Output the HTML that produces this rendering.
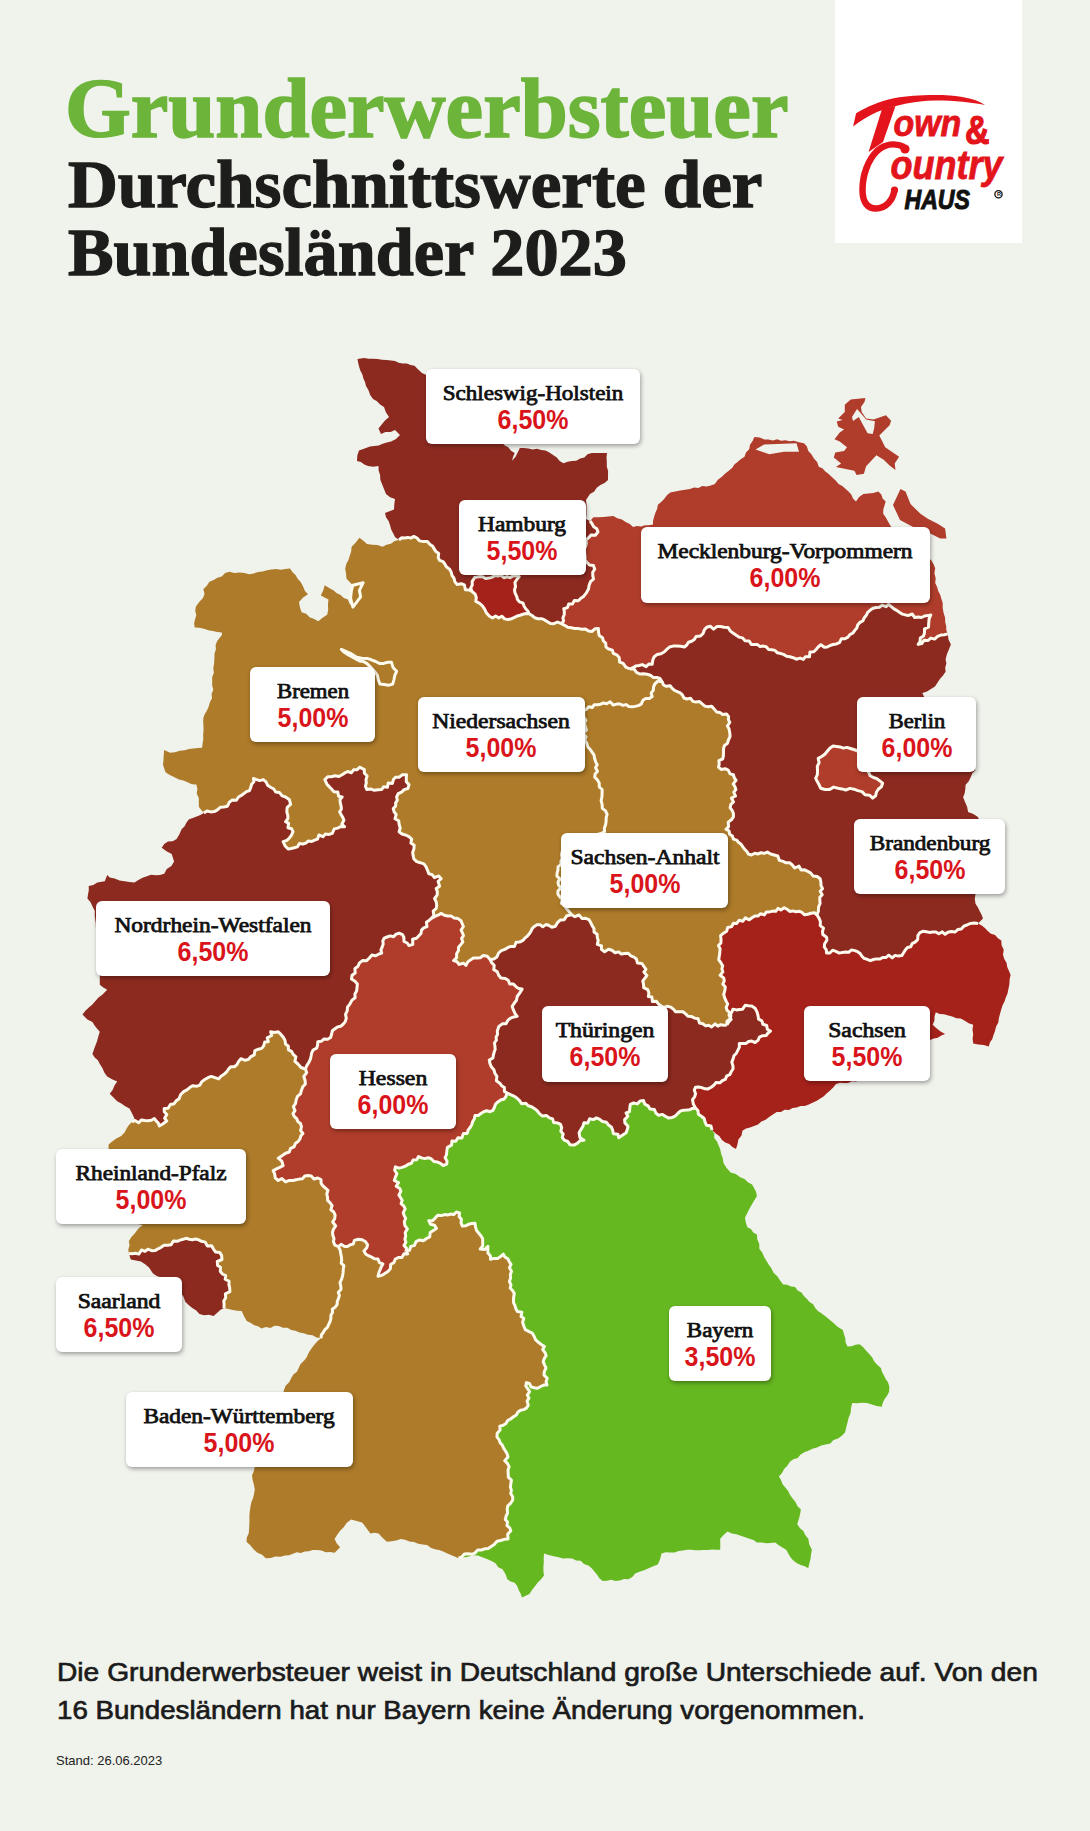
<!DOCTYPE html>
<html><head><meta charset="utf-8"><style>
html,body{margin:0;padding:0}
body{width:1090px;height:1831px;background:#f0f2ec;position:relative;overflow:hidden;font-family:"Liberation Sans",sans-serif}
.t{position:absolute;white-space:nowrap;font-family:"Liberation Serif",serif;font-weight:bold;transform-origin:0 0}
#t1{left:65px;top:65.5px;font-size:85px;line-height:85px;color:#6db43b;-webkit-text-stroke:1.6px #6db43b;transform:scaleX(0.995)}
#t2{left:68px;top:150.8px;font-size:67px;line-height:67px;color:#1d1d1b;-webkit-text-stroke:1.3px #1d1d1b;transform:scaleX(1.03)}
#t3{left:68px;top:218.9px;font-size:67px;line-height:67px;color:#1d1d1b;-webkit-text-stroke:1.3px #1d1d1b;transform:scaleX(1.02)}
#logo{position:absolute;left:835px;top:0;width:187px;height:243px;background:#fff}
#map{position:absolute;left:0;top:0}
.lb{position:absolute;background:#fff;border-radius:6px;box-shadow:1px 2px 4px rgba(0,0,0,0.35)}
.nm{position:absolute;top:13px;white-space:nowrap;font-family:"Liberation Serif",serif;font-weight:normal;-webkit-text-stroke:0.75px #111;font-size:20px;line-height:22px;color:#111}
.pc{position:absolute;top:36px;white-space:nowrap;font-family:"Liberation Sans",sans-serif;font-weight:bold;font-size:27px;line-height:30px;color:#d9141b;transform:translateX(-50%) scaleX(0.925)}
.bt{position:absolute;left:56.5px;white-space:nowrap;font-size:26.6px;line-height:30px;color:#1b1b1b;transform-origin:0 0;-webkit-text-stroke:0.7px #1b1b1b}
#b1{top:1656.5px;transform:scaleX(1.06)}
#b2{top:1694.5px;transform:scaleX(1.041)}
#st{position:absolute;left:56px;top:1752.5px;font-size:13px;line-height:15px;color:#222;white-space:nowrap}
</style></head><body>
<div class="t" id="t1">Grunderwerbsteuer</div>
<div class="t" id="t2">Durchschnittswerte der</div>
<div class="t" id="t3">Bundesländer 2023</div>
<div id="logo">
<svg width="187" height="243" viewBox="835 0 187 243">
<path d="M853.1 126.5 L856.1 113.3 C866 107 880 101 895 98 C910 95.5 930 94.5 950 95.5 C965 96.5 978 100 985 105 C972 102.5 955 100.5 935 100.5 C915 101 895 105 877 112 C868 116 860 121 853.1 126.5 Z" fill="#e3141b"/>
<path d="M882 109 L895.5 106 L883 142 L868.6 152.1 Z" fill="#e3141b"/>
<text x="0" y="0" transform="translate(893.5 136) scale(0.943 1)" font-family="Liberation Sans" font-weight="bold" font-style="italic" font-size="36" fill="#e3141b" stroke="#e3141b" stroke-width="0.8">own</text>
<text x="0" y="0" transform="translate(965 144) scale(0.85 1)" font-family="Liberation Sans" font-weight="bold" font-size="40" fill="#e3141b" stroke="#e3141b" stroke-width="1.2">&amp;</text>
<path d="M904 147 C895 142.5 885 144 877 151 C868 160 862.5 175 862.5 190 C862.5 203 868 208.5 876 208.5 C886 208.5 893 200 894.5 190" fill="none" stroke="#e3141b" stroke-width="6.5"/>
<circle cx="905" cy="149" r="4.6" fill="#e3141b"/>
<circle cx="894.5" cy="190" r="3.6" fill="#e3141b"/>
<text x="0" y="0" transform="translate(890.5 178.5) scale(0.9 1)" font-family="Liberation Sans" font-weight="bold" font-style="italic" font-size="40" fill="#e3141b" stroke="#e3141b" stroke-width="0.8">ountry</text>
<text x="0" y="0" transform="translate(904.5 209.3) scale(0.855 1)" font-family="Liberation Sans" font-weight="bold" font-style="italic" font-size="27" fill="#111" stroke="#111" stroke-width="1">HAUS</text>
<circle cx="998.5" cy="194.3" r="3.6" fill="none" stroke="#111" stroke-width="1.3"/>
<text x="996.9" y="196.3" font-family="Liberation Sans" font-weight="bold" font-size="5.5" fill="#111">R</text>
</svg></div>
<svg id="map" width="1090" height="1831">
<path fill="#ad7b29" d="M399.0 540.0 394.7 541.1 390.9 543.8 386.5 544.8 382.5 546.7 377.5 545.0 372.2 544.8 367.0 544.1 363.4 540.7 359.4 537.7 355.8 542.4 351.6 546.7 351.2 551.3 349.8 555.7 348.4 560.0 346.3 564.1 345.2 568.5 346.0 573.6 346.5 578.8 349.7 582.0 352.9 585.2 358.2 584.6 363.2 582.7 361.9 586.8 359.4 590.4 360.6 596.8 358.4 600.5 355.2 603.5 352.9 607.1 349.6 603.7 347.8 599.4 343.8 597.9 340.6 595.1 336.8 593.2 333.7 590.4 329.1 588.0 324.7 585.2 323.2 590.5 320.8 595.5 324.6 597.6 328.5 599.4 327.9 604.5 328.2 609.7 327.2 614.8 322.6 617.8 318.3 621.2 314.1 619.0 309.6 617.3 306.1 613.8 301.6 612.2 299.9 607.2 299.0 601.9 303.1 597.6 308.0 594.2 304.8 590.8 303.1 586.4 300.8 582.3 297.7 578.8 295.5 575.1 292.4 572.0 290.0 568.5 285.4 569.1 280.8 569.8 276.1 568.9 271.5 569.4 267.0 570.3 262.6 571.6 258.1 572.1 253.7 573.4 249.2 574.3 244.3 572.9 239.4 572.6 234.3 572.9 229.4 571.8 225.1 573.1 221.8 576.5 217.4 577.7 213.6 579.9 209.5 581.7 206.8 585.8 203.3 589.2 204.6 594.1 202.8 598.3 199.6 601.6 195.9 606.5 195.2 610.7 196.3 615.0 195.1 619.2 194.1 623.3 194.7 627.6 199.3 627.8 203.9 628.7 208.3 630.2 212.8 630.9 217.3 631.9 221.9 632.5 221.9 635.0 217.0 641.2 215.6 645.2 215.9 649.6 214.5 653.6 214.4 658.6 214.1 663.5 213.3 668.4 213.9 672.7 212.2 676.9 212.2 681.1 212.2 685.4 213.3 689.7 211.6 693.9 212.0 698.2 209.9 702.2 208.7 706.5 207.0 710.6 204.8 714.1 203.3 718.0 203.2 722.2 203.5 726.5 203.5 730.8 203.1 735.0 203.3 739.2 202.6 743.5 202.1 747.7 197.7 747.9 193.4 748.6 189.0 749.0 184.8 750.2 179.8 750.7 175.0 752.3 170.0 752.7 164.2 749.9 163.7 754.9 163.5 759.8 163.0 764.8 165.5 772.2 169.8 775.1 174.5 777.2 179.0 779.6 183.5 780.4 187.6 782.3 191.8 784.2 196.4 784.6 197.4 789.0 196.7 793.6 198.8 797.9 198.8 802.4 198.9 806.9 203.9 813.0 206.9 811.0 210.8 811.9 214.3 811.6 217.4 809.9 220.2 807.3 223.7 806.9 227.5 806.2 229.2 802.4 232.0 800.1 236.4 800.3 238.5 797.0 241.3 795.4 243.9 793.6 246.4 791.6 249.6 790.6 250.9 787.1 251.6 784.2 253.9 781.7 253.4 778.4 256.6 779.6 259.8 780.6 263.3 779.6 266.0 781.9 267.6 785.2 270.5 787.2 273.8 789.0 275.7 792.0 279.5 792.6 282.1 795.8 285.6 797.0 289.5 799.8 290.6 804.4 287.2 807.3 286.8 811.8 287.8 815.3 287.9 818.6 285.6 821.7 288.7 823.3 287.9 827.7 291.6 828.8 293.0 831.7 291.5 835.2 289.4 838.0 286.9 840.4 283.1 841.6 285.0 845.7 288.1 849.0 291.2 848.5 294.3 847.7 297.3 846.9 299.4 843.4 302.9 844.0 305.8 843.1 308.3 841.0 311.8 841.4 314.6 840.2 317.5 839.2 318.9 835.0 323.0 836.7 325.2 834.1 329.0 834.4 332.3 833.3 334.3 828.9 337.7 828.1 340.8 826.5 344.6 826.7 341.8 824.3 343.9 820.3 342.8 817.4 341.1 814.6 339.6 811.8 341.4 809.1 341.1 806.0 340.3 802.8 340.0 799.7 342.1 797.0 338.6 796.2 337.8 792.1 333.9 791.7 331.7 789.3 329.5 786.9 327.2 784.6 324.8 779.6 327.7 776.8 331.5 776.7 334.9 775.8 338.9 776.5 342.1 774.7 344.8 773.0 347.6 771.5 351.5 772.7 353.7 769.7 357.2 769.7 359.5 767.2 364.4 769.7 364.3 773.1 367.1 776.1 366.0 779.6 366.3 782.9 365.4 786.3 366.9 789.5 370.6 788.9 374.3 790.3 378.0 789.7 381.7 789.5 383.5 786.8 387.5 787.2 388.2 782.9 392.4 783.5 393.4 779.6 395.5 777.3 399.1 777.2 402.4 774.8 406.5 774.7 406.3 778.3 406.3 781.8 409.0 784.6 407.9 788.5 404.1 789.6 401.6 792.1 398.2 793.7 396.6 797.0 397.3 800.2 395.6 802.9 395.7 806.0 393.3 808.6 394.1 811.8 396.2 814.5 395.0 818.7 398.7 820.8 399.1 824.2 400.2 828.0 399.1 831.7 402.0 834.0 405.7 835.0 409.0 836.6 411.7 839.1 410.9 843.0 414.2 845.3 413.9 849.0 412.7 852.3 413.1 855.6 413.9 858.9 416.7 861.6 420.3 862.7 423.9 863.9 426.1 866.9 427.5 870.3 428.8 873.8 432.1 874.6 434.4 877.7 438.7 875.9 441.2 878.7 438.1 881.3 439.6 886.2 436.2 888.6 437.4 891.9 437.1 895.2 434.6 898.5 436.2 901.8 436.7 905.1 436.2 908.4 433.2 911.1 433.9 915.5 431.3 918.4 434.5 916.6 438.0 915.2 441.2 913.4 444.3 915.2 447.6 916.0 451.1 915.9 454.1 918.1 458.0 918.6 461.0 920.8 462.2 923.7 463.4 926.5 461.1 930.0 462.4 932.8 463.5 935.7 461.6 938.4 462.8 942.0 460.7 944.7 458.5 947.2 458.5 950.5 456.6 953.7 456.6 957.8 453.6 960.5 456.8 961.6 459.2 964.4 463.3 963.2 466.0 965.4 467.6 962.1 470.4 959.9 473.4 958.0 476.9 958.0 480.3 957.7 483.3 955.5 487.3 956.3 489.9 959.4 493.9 958.9 496.9 956.9 498.6 953.0 501.3 950.6 504.8 949.4 507.6 947.7 510.7 946.4 514.4 946.5 516.1 942.3 519.6 942.0 522.6 940.7 524.6 938.4 527.0 936.4 529.1 934.1 530.8 931.5 532.2 928.5 534.3 926.4 537.0 924.7 540.1 924.7 542.7 926.8 546.2 924.5 549.0 925.5 551.8 927.2 555.4 926.2 557.5 922.6 560.2 920.1 564.2 919.7 566.9 915.7 571.7 914.8 568.9 911.4 566.0 908.0 564.9 905.1 561.4 903.4 562.5 899.2 560.0 897.0 557.9 894.1 558.0 891.1 560.8 887.9 558.5 885.0 558.0 882.1 560.0 878.9 556.9 876.1 557.1 873.1 558.0 870.0 558.0 866.9 561.0 864.4 561.0 861.2 562.3 858.4 561.6 855.1 562.0 852.0 565.6 851.8 568.4 850.3 570.0 846.3 572.7 844.4 576.3 844.3 579.7 843.9 581.3 839.9 585.0 840.0 587.2 837.4 590.3 836.9 592.7 834.8 596.2 835.3 598.9 833.9 601.9 833.1 604.6 831.7 604.3 828.1 605.6 824.7 606.1 821.3 606.2 817.7 607.1 814.3 605.6 810.9 602.3 808.4 602.1 804.4 601.1 800.7 601.9 797.0 602.1 793.2 602.1 789.5 599.3 787.0 599.2 782.9 597.4 779.8 594.7 777.2 595.1 774.1 597.5 771.3 595.5 767.7 597.2 764.8 595.7 761.8 594.6 758.6 594.1 755.2 592.2 752.4 590.2 749.4 587.7 746.7 586.7 743.0 584.8 740.0 586.0 736.7 583.3 733.5 586.4 730.1 585.5 726.8 584.4 723.5 585.9 720.2 583.8 717.0 583.6 713.7 583.6 710.4 586.4 709.3 588.7 706.7 592.2 707.5 594.3 704.7 597.6 704.8 600.6 704.2 603.4 703.0 606.7 703.8 610.1 701.8 613.3 705.1 616.7 704.1 620.0 704.0 622.8 705.4 626.0 704.6 628.8 706.5 631.8 706.7 634.9 706.4 638.3 705.6 641.2 704.1 642.9 700.3 645.7 698.5 649.4 698.4 652.2 696.5 651.1 693.1 653.3 690.3 653.5 687.1 654.7 684.1 657.8 681.1 662.1 681.7 660.0 678.5 656.8 677.4 653.1 677.4 650.4 675.2 647.2 674.2 643.6 673.8 639.8 674.0 636.5 672.3 633.8 668.7 630.0 669.0 625.8 667.1 623.2 663.3 619.6 662.0 619.2 657.4 616.8 654.8 613.3 653.4 612.4 650.1 608.6 649.0 606.0 647.1 605.7 643.2 603.4 641.0 602.5 637.7 599.2 635.5 598.5 632.1 598.4 628.6 594.9 628.8 592.1 631.4 588.5 631.1 585.5 629.0 581.9 629.3 578.6 628.6 574.9 628.6 571.4 627.7 567.8 627.2 564.6 625.3 561.3 623.7 557.6 622.0 553.9 623.7 550.4 623.6 547.5 621.8 544.6 619.9 541.5 618.7 537.9 618.7 534.7 617.7 532.0 615.5 529.1 613.8 525.9 613.5 523.0 614.3 520.1 615.2 517.2 616.0 514.5 617.4 511.7 618.7 508.0 619.6 504.6 618.9 501.8 616.2 498.7 617.9 495.6 616.0 492.6 618.0 489.5 616.2 486.4 612.9 484.5 608.8 482.2 605.6 479.3 603.2 475.8 601.4 476.3 597.4 475.1 594.1 472.1 591.5 469.2 589.9 465.4 589.8 464.4 584.9 461.2 583.7 457.0 584.4 454.8 581.6 454.0 578.2 452.0 575.5 451.2 572.1 449.6 569.2 446.6 567.1 444.9 564.2 443.1 561.6 439.6 560.4 438.2 557.6 438.7 553.4 436.0 551.5 434.2 549.0 432.7 546.3 430.0 544.4 427.4 541.5 423.3 541.6 419.6 540.9 417.0 538.0 413.8 536.4 410.9 538.1 407.8 537.4 404.8 537.9 401.8 537.7 399.0 540.0Z"/>
<path fill="#8d2a20" d="M399.0 540.0 395.0 537.0 393.0 533.1 391.1 529.2 390.0 525.0 388.6 520.9 386.0 517.3 385.0 513.0 389.5 511.3 394.0 509.5 394.3 504.2 395.0 499.0 390.1 497.2 386.0 494.0 384.0 489.0 382.0 484.0 380.3 479.7 380.1 475.0 378.6 470.6 378.5 466.0 373.2 466.7 368.0 466.0 364.3 464.5 360.9 462.1 357.0 461.0 357.3 455.6 359.0 450.5 366.0 448.0 370.0 446.4 374.4 446.1 378.7 445.5 382.7 443.8 386.8 442.4 391.0 441.5 396.0 438.9 400.0 435.0 395.0 430.0 390.6 432.1 385.5 432.0 381.0 434.0 378.5 428.6 381.7 424.5 385.0 420.4 389.0 417.0 385.9 412.3 384.0 407.0 380.1 404.6 377.0 401.2 373.0 399.0 370.2 394.9 368.5 390.3 366.0 386.0 365.0 382.1 363.4 378.4 362.4 374.4 360.4 370.8 359.2 367.0 358.2 363.0 357.5 359.0 364.0 358.0 368.5 358.7 373.0 358.7 377.5 358.9 382.0 359.8 386.5 360.0 391.0 360.5 395.0 361.0 398.7 362.8 402.7 363.4 406.8 363.5 410.6 365.0 414.5 365.7 418.2 369.4 422.0 373.0 426.3 374.9 430.9 375.9 435.6 376.4 440.0 378.0 444.1 379.8 448.7 379.3 452.9 380.9 457.0 382.5 461.6 382.4 465.7 384.0 470.0 385.0 473.6 386.9 476.1 390.2 479.1 392.9 482.4 395.1 485.2 398.0 489.0 399.7 491.7 402.8 495.0 405.0 495.5 409.4 496.1 413.8 497.0 418.1 496.9 422.6 497.3 427.0 498.8 431.2 499.1 435.7 500.0 440.0 504.4 445.3 508.3 447.2 511.0 450.7 514.7 453.0 513.1 456.8 512.0 460.7 515.4 456.9 517.7 452.5 519.8 447.9 524.1 447.9 528.4 448.6 532.6 449.5 537.0 448.8 541.2 450.0 545.5 450.5 549.4 452.6 553.1 455.1 556.8 457.5 559.6 461.1 563.5 463.3 567.6 461.8 571.9 461.1 576.3 460.7 580.1 458.6 584.3 457.4 587.5 454.2 591.7 453.0 596.8 452.9 601.9 453.1 607.0 453.0 606.5 457.5 606.8 462.0 606.8 466.5 608.1 471.0 608.0 475.5 608.0 480.0 604.6 483.0 600.4 485.1 596.7 487.7 594.0 491.7 590.0 494.0 586.0 500.0 586.6 504.8 586.5 509.5 586.5 514.2 586.0 519.0 590.0 521.0 592.0 523.7 593.7 526.7 596.8 528.7 598.0 532.0 595.3 535.3 591.0 535.0 588.7 537.7 586.0 540.0 586.4 543.4 585.4 546.7 583.7 549.9 584.6 553.3 585.1 556.7 585.0 560.0 587.1 562.6 589.4 565.1 593.5 565.6 594.7 569.2 592.7 572.3 592.8 575.7 593.5 579.1 590.5 581.7 589.1 585.2 588.5 589.0 586.4 592.9 583.6 596.4 580.8 598.3 578.4 600.8 574.4 600.4 572.5 604.0 568.7 603.9 567.5 607.6 563.8 608.8 564.4 612.0 564.1 615.0 562.9 617.8 563.6 621.0 561.3 623.7 557.6 622.0 553.9 623.7 550.4 623.6 547.5 621.8 544.6 619.9 541.5 618.7 537.9 618.7 534.7 617.7 532.0 615.5 529.1 613.8 527.9 611.0 525.7 608.8 524.1 606.3 523.1 603.2 519.6 601.9 517.5 599.6 516.7 596.4 515.1 593.2 514.5 590.0 515.5 586.5 514.9 582.5 516.8 579.5 519.2 576.6 516.1 575.5 513.1 575.9 510.0 577.7 507.0 576.7 503.9 577.7 500.9 575.3 497.8 576.1 494.8 575.6 491.7 577.4 488.7 578.1 485.6 578.5 482.6 576.7 479.5 576.6 474.7 577.5 472.1 581.6 472.3 584.9 470.7 588.2 472.1 591.5 469.2 589.9 465.4 589.8 464.4 584.9 461.2 583.7 457.0 584.4 454.8 581.6 454.0 578.2 452.0 575.5 451.2 572.1 449.6 569.2 446.6 567.1 444.9 564.2 443.1 561.6 439.6 560.4 438.2 557.6 438.7 553.4 436.0 551.5 434.2 549.0 432.7 546.3 430.0 544.4 427.4 541.5 423.3 541.6 419.6 540.9 417.0 538.0 413.8 536.4 410.9 538.1 407.8 537.4 404.8 537.9 401.8 537.7 399.0 540.0Z"/>
<path fill="#b03d2b" d="M590.0 521.0 593.5 517.2 598.5 517.2 603.4 517.0 608.4 516.4 613.3 515.9 617.3 518.2 621.9 519.4 625.7 522.1 629.8 524.0 633.1 527.0 637.0 526.1 641.1 526.5 645.0 525.2 649.0 525.2 653.0 524.6 653.1 520.4 654.2 516.5 655.5 512.6 657.2 508.8 657.9 504.8 661.2 501.9 664.3 498.8 666.9 495.2 670.3 492.4 675.2 491.6 680.1 490.6 685.1 489.8 690.0 489.0 694.0 487.5 698.4 488.0 702.3 486.0 706.7 486.5 710.8 485.6 714.8 484.0 717.9 479.7 722.2 476.6 725.2 473.4 728.8 470.8 732.1 467.9 734.6 464.2 737.8 461.7 741.0 458.9 744.5 456.8 746.0 452.6 749.2 449.2 750.0 444.7 752.6 441.0 754.4 437.0 759.5 437.6 764.3 439.4 768.5 439.6 772.8 440.6 777.1 439.3 781.2 440.7 785.5 440.3 789.7 441.2 794.0 440.7 798.9 442.3 804.0 443.2 806.9 446.6 808.3 451.0 811.4 454.3 813.9 458.4 817.1 462.1 818.8 466.7 822.6 468.5 825.4 471.6 828.7 474.1 832.1 477.3 835.6 480.4 838.6 484.0 842.3 486.0 845.4 488.8 848.5 491.5 851.3 494.6 853.0 498.5 856.0 501.4 859.1 497.1 863.4 494.0 868.4 493.6 873.4 492.9 878.3 491.5 881.3 494.4 882.6 498.6 885.7 501.4 884.5 505.5 883.3 509.5 883.2 513.8 886.0 517.7 888.3 521.9 890.6 526.1 893.6 529.8 895.6 534.2 899.1 537.5 902.3 541.1 905.0 545.0 909.0 546.3 913.1 547.4 917.3 548.4 921.2 549.9 925.0 552.0 927.8 556.8 931.5 560.8 933.7 564.4 935.2 568.3 934.4 573.2 935.7 578.2 935.2 583.1 937.1 586.9 938.2 591.0 940.2 594.8 941.4 598.9 942.7 602.9 942.7 608.0 943.6 612.9 945.1 617.8 945.2 621.9 946.2 625.9 946.3 630.0 947.7 633.9 944.3 634.7 940.8 635.1 937.6 636.4 934.6 639.1 930.8 638.1 928.1 640.5 924.0 640.2 921.8 643.6 918.2 644.4 920.1 641.5 920.3 638.1 923.5 636.0 924.5 632.7 924.5 628.8 928.5 627.1 928.7 623.3 929.1 618.9 930.8 614.9 927.7 615.6 924.5 616.0 921.5 617.5 918.2 617.0 914.8 617.6 912.2 614.0 908.7 615.4 905.5 614.9 902.4 614.1 899.7 612.5 897.1 610.6 894.0 608.9 891.3 606.6 888.6 604.3 886.1 606.7 882.1 605.1 879.4 607.2 876.1 607.5 873.0 608.3 870.3 610.1 867.7 612.3 866.3 615.3 864.3 617.7 863.0 620.7 860.0 622.4 857.8 624.7 856.8 628.0 854.8 630.4 852.9 633.0 849.9 634.6 847.9 637.1 845.0 638.7 841.3 638.8 839.5 642.7 836.4 643.9 833.0 644.5 830.1 645.5 827.3 647.0 824.3 647.3 820.9 644.7 818.2 647.0 816.1 649.5 813.8 651.8 809.9 652.1 809.5 656.8 805.3 656.8 803.3 659.4 800.1 658.1 796.3 659.2 793.2 657.7 789.9 656.7 786.6 656.2 783.5 654.4 780.5 653.5 777.4 652.8 774.9 650.4 771.8 649.7 768.6 649.5 766.2 646.8 763.3 646.1 760.1 646.6 757.5 644.6 754.4 644.4 751.3 644.5 749.2 640.9 745.1 640.8 742.6 637.9 738.9 637.1 735.9 635.1 733.0 633.1 730.2 630.8 728.1 627.5 724.0 627.2 720.5 626.6 717.1 626.4 713.6 629.1 710.2 626.2 706.7 627.2 704.4 629.8 703.1 633.5 700.6 635.9 696.1 636.4 694.3 639.5 691.7 641.2 688.5 642.2 686.8 645.0 684.4 647.0 680.7 646.2 677.0 646.0 673.2 646.1 669.5 647.0 666.8 649.4 664.1 652.0 661.0 653.7 657.2 654.4 654.0 657.0 652.7 660.4 652.2 664.3 648.8 664.0 646.1 666.6 642.3 664.6 639.2 665.5 636.0 665.9 633.0 667.7 630.0 669.0 625.8 667.1 623.2 663.3 619.6 662.0 619.2 657.4 616.8 654.8 613.3 653.4 612.4 650.1 608.6 649.0 606.0 647.1 605.7 643.2 603.4 641.0 602.5 637.7 599.2 635.5 598.5 632.1 598.4 628.6 594.9 628.8 592.1 631.4 588.5 631.1 585.5 629.0 581.9 629.3 578.6 628.6 574.9 628.6 571.4 627.7 567.8 627.2 564.6 625.3 561.3 623.7 563.6 621.0 562.9 617.8 564.1 615.0 564.4 612.0 563.8 608.8 567.5 607.6 568.7 603.9 572.5 604.0 574.4 600.4 578.4 600.8 580.8 598.3 583.6 596.4 586.4 592.9 588.5 589.0 589.1 585.2 590.5 581.7 593.5 579.1 592.8 575.7 592.7 572.3 594.7 569.2 593.5 565.6 589.4 565.1 587.1 562.6 585.0 560.0 585.1 556.7 584.6 553.3 583.7 549.9 585.4 546.7 586.4 543.4 586.0 540.0 588.7 537.7 591.0 535.0 595.3 535.3 598.0 532.0 596.8 528.7 593.7 526.7 592.0 523.7 590.0 521.0Z"/>
<path fill="#8d2a20" d="M630.0 669.0 633.0 667.7 636.0 665.9 639.2 665.5 642.3 664.6 646.1 666.6 648.8 664.0 652.2 664.3 652.7 660.4 654.0 657.0 657.2 654.4 661.0 653.7 664.1 652.0 666.8 649.4 669.5 647.0 673.2 646.1 677.0 646.0 680.7 646.2 684.4 647.0 686.8 645.0 688.5 642.2 691.7 641.2 694.3 639.5 696.1 636.4 700.6 635.9 703.1 633.5 704.4 629.8 706.7 627.2 710.2 626.2 713.6 629.1 717.1 626.4 720.5 626.6 724.0 627.2 728.1 627.5 730.2 630.8 733.0 633.1 735.9 635.1 738.9 637.1 742.6 637.9 745.1 640.8 749.2 640.9 751.3 644.5 754.4 644.4 757.5 644.6 760.1 646.6 763.3 646.1 766.2 646.8 768.6 649.5 771.8 649.7 774.9 650.4 777.4 652.8 780.5 653.5 783.5 654.4 786.6 656.2 789.9 656.7 793.2 657.7 796.3 659.2 800.1 658.1 803.3 659.4 805.3 656.8 809.5 656.8 809.9 652.1 813.8 651.8 816.1 649.5 818.2 647.0 820.9 644.7 824.3 647.3 827.3 647.0 830.1 645.5 833.0 644.5 836.4 643.9 839.5 642.7 841.3 638.8 845.0 638.7 847.9 637.1 849.9 634.6 852.9 633.0 854.8 630.4 856.8 628.0 857.8 624.7 860.0 622.4 863.0 620.7 864.3 617.7 866.3 615.3 867.7 612.3 870.3 610.1 873.0 608.3 876.1 607.5 879.4 607.2 882.1 605.1 886.1 606.7 888.6 604.3 891.3 606.6 894.0 608.9 897.1 610.6 899.7 612.5 902.4 614.1 905.5 614.9 908.7 615.4 912.2 614.0 914.8 617.6 918.2 617.0 921.5 617.5 924.5 616.0 927.7 615.6 930.8 614.9 929.1 618.9 928.7 623.3 928.5 627.1 924.5 628.8 924.5 632.7 923.5 636.0 920.3 638.1 920.1 641.5 918.2 644.4 921.8 643.6 924.0 640.2 928.1 640.5 930.8 638.1 934.6 639.1 937.6 636.4 940.8 635.1 944.3 634.7 947.7 633.9 948.5 639.4 950.9 644.4 949.0 649.3 947.0 654.1 945.6 659.2 946.4 663.4 945.2 667.6 945.6 671.8 943.0 675.6 939.9 678.9 937.4 682.7 935.0 686.6 931.0 689.0 927.0 691.5 922.4 692.9 924.0 696.7 927.4 699.3 929.0 703.0 931.4 706.3 933.7 709.6 935.2 713.5 937.1 717.1 940.0 720.0 942.6 723.4 944.3 727.4 947.1 730.7 949.0 734.6 951.5 738.1 954.1 741.5 956.4 745.1 958.6 748.8 959.8 753.1 962.7 756.4 965.0 760.0 968.8 763.0 971.5 767.2 975.5 770.0 972.3 773.2 970.6 777.5 968.6 781.5 965.6 784.8 965.3 789.0 964.7 793.2 963.1 797.2 965.0 802.0 967.1 806.8 968.1 812.0 973.3 814.1 978.0 817.0 979.3 821.0 979.6 825.3 979.9 829.5 981.1 833.6 982.5 837.6 983.4 841.7 984.1 845.9 985.0 850.0 984.5 854.3 983.9 858.6 983.6 863.0 982.5 867.2 980.6 871.3 981.4 875.8 980.0 880.0 978.5 884.6 976.8 889.1 975.5 893.8 974.8 898.8 975.5 903.7 977.8 907.2 979.6 910.9 981.5 914.6 983.0 918.5 978.0 923.5 974.2 923.0 970.5 923.4 967.0 925.0 963.8 926.2 961.3 929.1 957.8 929.5 955.2 932.0 951.3 931.5 947.9 932.2 945.1 934.3 942.3 931.9 938.8 933.8 935.9 931.9 932.7 932.1 929.5 932.4 926.4 931.7 923.3 931.2 919.9 932.7 917.9 935.4 917.7 939.5 915.4 941.9 912.1 943.6 910.8 946.8 907.4 947.5 905.3 949.9 903.6 952.8 901.8 955.6 898.3 956.1 895.1 955.4 892.2 957.9 888.8 955.2 885.8 957.6 882.7 957.5 879.7 959.1 876.5 958.9 873.4 959.5 870.4 960.7 867.1 959.3 864.1 958.4 861.9 956.2 860.1 953.4 857.6 951.7 854.7 950.6 851.6 949.9 848.7 952.2 845.5 952.1 842.4 952.4 839.3 953.1 835.9 951.4 832.6 950.2 829.8 953.0 826.6 953.0 826.3 949.9 824.3 947.0 824.6 943.8 826.9 940.3 826.6 937.2 822.8 934.5 822.5 931.4 823.5 928.1 820.2 925.6 820.4 921.5 819.0 918.1 817.0 915.0 818.4 911.3 818.5 907.2 820.1 903.5 819.8 900.4 819.8 897.3 822.2 894.7 820.2 891.3 822.6 888.6 821.0 885.5 820.9 882.0 820.1 878.7 817.2 876.5 813.2 876.1 810.8 873.1 807.7 871.3 804.7 869.8 801.1 870.0 799.0 866.1 794.7 868.0 792.3 865.0 789.6 862.7 786.0 862.8 783.0 861.4 779.4 860.4 777.8 856.0 774.2 855.0 770.6 854.0 767.4 852.1 764.2 853.4 761.0 852.7 757.9 854.0 754.7 853.2 751.5 855.0 748.3 854.0 746.7 851.3 744.6 849.2 742.8 846.8 741.1 844.2 738.6 842.4 736.6 840.1 733.4 839.1 732.4 836.0 729.6 834.2 729.0 830.8 726.0 829.2 728.6 826.6 728.2 822.1 731.4 819.8 733.4 816.8 733.4 813.6 732.3 810.6 730.1 807.8 730.9 804.4 733.5 802.0 731.5 798.0 735.5 796.0 733.8 792.1 735.9 789.5 734.9 786.6 733.2 783.9 736.1 780.3 734.2 777.6 733.4 774.7 730.1 773.9 728.2 770.1 725.2 768.7 721.1 769.4 718.5 767.2 719.2 764.1 718.9 760.7 722.8 758.8 723.4 755.7 723.5 752.4 723.5 748.8 724.4 745.6 727.5 743.2 728.4 740.0 730.1 736.3 729.7 732.5 729.0 728.7 727.4 725.9 729.8 722.5 728.4 719.7 728.6 716.6 726.5 713.9 722.7 714.4 719.9 712.5 716.5 711.9 714.1 708.9 711.7 706.2 708.0 706.7 704.9 706.1 702.2 703.9 699.6 701.6 696.0 702.1 692.9 701.4 690.6 698.3 686.9 699.0 683.9 698.0 682.4 694.9 680.2 692.8 677.3 691.6 674.5 690.4 672.2 688.4 670.3 685.8 666.3 686.3 663.5 685.0 662.1 681.7 660.0 678.5 656.8 677.4 653.1 677.4 650.4 675.2 647.2 674.2 643.6 673.8 639.8 674.0 636.5 672.3 633.8 668.7 630.0 669.0Z"/>
<path fill="#ad7b29" d="M662.1 681.7 663.5 685.0 666.3 686.3 670.3 685.8 672.2 688.4 674.5 690.4 677.3 691.6 680.2 692.8 682.4 694.9 683.9 698.0 686.9 699.0 690.6 698.3 692.9 701.4 696.0 702.1 699.6 701.6 702.2 703.9 704.9 706.1 708.0 706.7 711.7 706.2 714.1 708.9 716.5 711.9 719.9 712.5 722.7 714.4 726.5 713.9 728.6 716.6 728.4 719.7 729.8 722.5 727.4 725.9 729.0 728.7 729.7 732.5 730.1 736.3 728.4 740.0 727.5 743.2 724.4 745.6 723.5 748.8 723.5 752.4 723.4 755.7 722.8 758.8 718.9 760.7 719.2 764.1 718.5 767.2 721.1 769.4 725.2 768.7 728.2 770.1 730.1 773.9 733.4 774.7 734.2 777.6 736.1 780.3 733.2 783.9 734.9 786.6 735.9 789.5 733.8 792.1 735.5 796.0 731.5 798.0 733.5 802.0 730.9 804.4 730.1 807.8 732.3 810.6 733.4 813.6 733.4 816.8 731.4 819.8 728.2 822.1 728.6 826.6 726.0 829.2 729.0 830.8 729.6 834.2 732.4 836.0 733.4 839.1 736.6 840.1 738.6 842.4 741.1 844.2 742.8 846.8 744.6 849.2 746.7 851.3 748.3 854.0 751.5 855.0 754.7 853.2 757.9 854.0 761.0 852.7 764.2 853.4 767.4 852.1 770.6 854.0 774.2 855.0 777.8 856.0 779.4 860.4 783.0 861.4 786.0 862.8 789.6 862.7 792.3 865.0 794.7 868.0 799.0 866.1 801.1 870.0 804.7 869.8 807.7 871.3 810.8 873.1 813.2 876.1 817.2 876.5 820.1 878.7 820.9 882.0 821.0 885.5 822.6 888.6 820.2 891.3 822.2 894.7 819.8 897.3 819.8 900.4 820.1 903.5 818.5 907.2 818.4 911.3 817.0 915.0 814.3 912.7 811.1 913.2 807.8 914.2 804.6 914.8 801.9 912.4 799.0 911.2 795.8 911.7 792.8 910.9 789.7 911.4 787.0 909.2 784.2 907.7 780.8 910.0 778.0 908.4 775.8 911.2 772.6 911.1 769.6 911.9 766.4 912.0 764.3 914.9 760.6 913.7 758.2 915.9 754.8 915.9 752.0 917.7 749.2 919.8 745.3 917.8 742.9 921.2 739.2 920.2 736.8 923.4 733.4 923.3 731.7 926.6 727.7 927.5 726.6 931.3 723.5 933.2 720.6 935.6 721.0 939.4 720.9 943.0 718.5 945.6 720.1 948.9 719.8 952.5 719.3 956.1 718.7 959.7 721.0 962.9 721.0 962.9 722.7 965.8 721.9 968.9 722.9 971.9 720.1 975.2 723.7 977.9 724.3 980.9 722.8 984.1 725.3 987.0 724.8 990.6 723.7 994.4 724.6 997.7 726.0 1000.9 727.7 1004.0 726.2 1007.3 727.0 1010.2 729.9 1012.8 730.9 1015.6 730.2 1018.8 727.0 1021.1 726.8 1025.0 723.8 1025.3 720.7 1024.7 717.8 1026.2 715.1 1023.8 711.6 1027.0 708.8 1025.3 705.6 1025.9 702.9 1023.8 699.5 1023.0 698.1 1018.8 694.7 1018.1 691.7 1016.6 688.1 1016.3 685.6 1013.9 682.9 1011.8 679.2 1011.8 675.6 1011.8 673.2 1008.9 670.5 1007.1 667.5 1006.3 663.8 1007.5 661.0 1005.9 658.4 1004.0 656.5 1001.3 652.4 1001.6 651.9 997.0 648.4 996.5 648.9 992.7 647.7 989.6 643.7 987.6 643.5 984.1 642.8 980.9 644.9 978.2 646.9 975.5 643.9 972.0 646.0 969.3 643.9 966.4 641.9 963.5 637.4 963.0 636.4 959.0 633.6 956.9 630.7 955.8 628.2 953.2 624.7 953.6 621.3 954.1 618.7 951.9 615.1 952.7 611.9 950.3 608.5 949.2 604.6 951.7 601.4 949.4 601.6 945.9 597.3 944.3 598.2 940.5 597.3 937.5 597.1 934.2 594.0 932.1 594.0 928.5 592.1 925.6 590.7 922.6 589.0 919.7 585.7 918.3 581.9 918.4 579.1 915.0 574.9 916.7 571.7 914.8 568.9 911.4 566.0 908.0 564.9 905.1 561.4 903.4 562.5 899.2 560.0 897.0 557.9 894.1 558.0 891.1 560.8 887.9 558.5 885.0 558.0 882.1 560.0 878.9 556.9 876.1 557.1 873.1 558.0 870.0 558.0 866.9 561.0 864.4 561.0 861.2 562.3 858.4 561.6 855.1 562.0 852.0 565.6 851.8 568.4 850.3 570.0 846.3 572.7 844.4 576.3 844.3 579.7 843.9 581.3 839.9 585.0 840.0 587.2 837.4 590.3 836.9 592.7 834.8 596.2 835.3 598.9 833.9 601.9 833.1 604.6 831.7 604.3 828.1 605.6 824.7 606.1 821.3 606.2 817.7 607.1 814.3 605.6 810.9 602.3 808.4 602.1 804.4 601.1 800.7 601.9 797.0 602.1 793.2 602.1 789.5 599.3 787.0 599.2 782.9 597.4 779.8 594.7 777.2 595.1 774.1 597.5 771.3 595.5 767.7 597.2 764.8 595.7 761.8 594.6 758.6 594.1 755.2 592.2 752.4 590.2 749.4 587.7 746.7 586.7 743.0 584.8 740.0 586.0 736.7 583.3 733.5 586.4 730.1 585.5 726.8 584.4 723.5 585.9 720.2 583.8 717.0 583.6 713.7 583.6 710.4 586.4 709.3 588.7 706.7 592.2 707.5 594.3 704.7 597.6 704.8 600.6 704.2 603.4 703.0 606.7 703.8 610.1 701.8 613.3 705.1 616.7 704.1 620.0 704.0 622.8 705.4 626.0 704.6 628.8 706.5 631.8 706.7 634.9 706.4 638.3 705.6 641.2 704.1 642.9 700.3 645.7 698.5 649.4 698.4 652.2 696.5 651.1 693.1 653.3 690.3 653.5 687.1 654.7 684.1 657.8 681.1 662.1 681.7Z"/>
<path fill="#8d2a20" d="M489.9 959.4 493.9 958.9 496.9 956.9 498.6 953.0 501.3 950.6 504.8 949.4 507.6 947.7 510.7 946.4 514.4 946.5 516.1 942.3 519.6 942.0 522.6 940.7 524.6 938.4 527.0 936.4 529.1 934.1 530.8 931.5 532.2 928.5 534.3 926.4 537.0 924.7 540.1 924.7 542.7 926.8 546.2 924.5 549.0 925.5 551.8 927.2 555.4 926.2 557.5 922.6 560.2 920.1 564.2 919.7 566.9 915.7 571.7 914.8 574.9 916.7 579.1 915.0 581.9 918.4 585.7 918.3 589.0 919.7 590.7 922.6 592.1 925.6 594.0 928.5 594.0 932.1 597.1 934.2 597.3 937.5 598.2 940.5 597.3 944.3 601.6 945.9 601.4 949.4 604.6 951.7 608.5 949.2 611.9 950.3 615.1 952.7 618.7 951.9 621.3 954.1 624.7 953.6 628.2 953.2 630.7 955.8 633.6 956.9 636.4 959.0 637.4 963.0 641.9 963.5 643.9 966.4 646.0 969.3 643.9 972.0 646.9 975.5 644.9 978.2 642.8 980.9 643.5 984.1 643.7 987.6 647.7 989.6 648.9 992.7 648.4 996.5 651.9 997.0 652.4 1001.6 656.5 1001.3 658.4 1004.0 661.0 1005.9 663.8 1007.5 667.5 1006.3 670.5 1007.1 673.2 1008.9 675.6 1011.8 679.2 1011.8 682.9 1011.8 685.6 1013.9 688.1 1016.3 691.7 1016.6 694.7 1018.1 698.1 1018.8 699.5 1023.0 702.9 1023.8 705.6 1025.9 708.8 1025.3 711.6 1027.0 715.1 1023.8 717.8 1026.2 720.7 1024.7 723.8 1025.3 726.8 1025.0 728.6 1022.1 731.1 1019.4 729.0 1014.9 731.7 1012.3 733.0 1009.2 736.3 1009.9 739.5 1009.5 742.6 1009.2 745.2 1005.3 748.4 1005.7 751.7 1006.0 755.1 1008.3 756.9 1011.6 758.0 1015.4 758.6 1019.2 761.9 1020.8 762.9 1024.3 766.7 1025.5 767.3 1029.3 770.5 1031.0 768.1 1033.0 766.1 1035.5 762.3 1035.8 759.4 1037.1 758.0 1040.4 755.1 1042.5 751.7 1041.1 748.6 1041.5 745.7 1043.6 742.5 1043.5 739.3 1043.5 739.4 1047.2 737.9 1050.2 736.4 1053.2 733.9 1055.8 733.0 1059.1 731.8 1062.1 732.9 1065.6 733.1 1068.8 731.2 1071.7 729.9 1074.7 726.8 1075.9 725.3 1079.3 722.3 1080.7 719.9 1082.8 715.9 1082.6 713.8 1085.3 711.2 1087.2 708.1 1088.9 705.0 1088.8 701.8 1087.6 698.7 1087.0 695.6 1087.2 694.3 1090.2 695.6 1093.8 694.6 1096.8 692.5 1099.6 693.3 1104.1 695.5 1108.0 692.5 1108.4 689.8 1109.7 686.7 1110.1 683.7 1110.3 680.7 1110.9 678.2 1113.0 675.5 1115.8 672.2 1117.5 668.3 1117.9 665.3 1116.3 662.5 1114.4 658.6 1115.3 655.9 1113.0 654.4 1109.6 650.0 1109.0 648.1 1105.9 644.8 1104.2 643.5 1100.6 640.1 1101.0 637.3 1103.9 633.6 1103.0 630.3 1104.4 629.8 1108.0 629.5 1111.6 626.1 1113.0 627.9 1116.3 624.6 1119.6 624.9 1122.9 628.0 1126.2 627.3 1129.5 626.1 1132.8 622.4 1135.2 618.7 1137.7 617.9 1134.2 613.4 1133.8 612.7 1130.3 611.5 1127.2 608.8 1125.3 606.4 1122.2 602.6 1121.6 599.8 1119.3 596.4 1117.9 593.5 1119.6 589.6 1118.8 587.7 1123.1 584.0 1122.8 582.9 1126.4 580.9 1129.6 579.1 1132.8 579.9 1137.6 584.0 1140.2 580.1 1140.6 577.3 1143.3 574.1 1145.1 570.1 1144.8 567.7 1141.5 564.2 1140.2 562.3 1137.4 563.2 1133.9 560.8 1131.2 561.7 1127.8 560.5 1124.3 557.5 1122.9 553.7 1122.6 552.6 1118.9 549.4 1117.9 546.6 1115.6 542.2 1115.9 539.4 1113.6 537.0 1110.5 534.3 1108.6 531.5 1106.7 528.2 1105.8 525.8 1103.2 521.6 1103.8 519.6 1100.6 516.9 1098.1 513.8 1096.1 510.5 1094.7 507.2 1093.1 504.4 1091.4 504.4 1087.5 501.6 1085.7 499.8 1083.2 496.4 1080.8 496.9 1076.4 494.9 1073.3 493.9 1069.7 491.3 1066.8 489.9 1063.4 489.3 1060.1 492.9 1058.0 493.4 1055.0 494.2 1052.1 495.2 1049.3 494.9 1046.1 494.4 1043.0 496.4 1040.2 496.1 1037.1 497.6 1034.3 497.3 1031.2 498.7 1026.7 502.3 1023.8 506.0 1023.7 508.0 1020.2 510.6 1018.1 513.8 1016.9 517.2 1016.3 514.9 1013.3 513.4 1009.9 512.2 1006.4 514.2 1003.2 516.5 1000.3 517.2 996.5 519.8 992.9 522.1 989.1 518.7 988.6 515.9 986.6 513.4 983.9 509.7 984.1 508.4 980.4 505.4 978.5 500.9 978.0 498.7 975.3 497.3 971.7 493.8 969.6 494.2 965.2 491.6 962.6 489.9 959.4Z"/>
<path fill="#a5221a" d="M817.0 915.0 819.0 918.1 820.4 921.5 820.2 925.6 823.5 928.1 822.5 931.4 822.8 934.5 826.6 937.2 826.9 940.3 824.6 943.8 824.3 947.0 826.3 949.9 826.6 953.0 829.8 953.0 832.6 950.2 835.9 951.4 839.3 953.1 842.4 952.4 845.5 952.1 848.7 952.2 851.6 949.9 854.7 950.6 857.6 951.7 860.1 953.4 861.9 956.2 864.1 958.4 867.1 959.3 870.4 960.7 873.4 959.5 876.5 958.9 879.7 959.1 882.7 957.5 885.8 957.6 888.8 955.2 892.2 957.9 895.1 955.4 898.3 956.1 901.8 955.6 903.6 952.8 905.3 949.9 907.4 947.5 910.8 946.8 912.1 943.6 915.4 941.9 917.7 939.5 917.9 935.4 919.9 932.7 923.3 931.2 926.4 931.7 929.5 932.4 932.7 932.1 935.9 931.9 938.8 933.8 942.3 931.9 945.1 934.3 947.9 932.2 951.3 931.5 955.2 932.0 957.8 929.5 961.3 929.1 963.8 926.2 967.0 925.0 970.5 923.4 974.2 923.0 978.0 923.5 981.7 925.4 984.9 928.0 987.7 931.1 990.9 933.8 995.1 935.0 997.9 938.2 1001.3 940.5 1001.6 945.3 1003.7 949.8 1003.0 954.7 1004.4 959.3 1006.6 962.9 1007.3 967.2 1009.0 971.0 1010.6 974.9 1009.6 979.5 1009.4 984.3 1008.4 988.9 1007.5 993.6 1005.8 997.4 1004.5 1001.4 1002.6 1005.2 1001.3 1009.2 1000.1 1013.6 998.9 1018.0 998.3 1022.5 996.1 1026.6 995.0 1031.0 993.5 1034.9 992.3 1039.0 989.9 1042.5 988.8 1046.6 983.7 1045.1 978.4 1044.6 973.2 1043.5 972.6 1038.8 973.2 1034.2 972.5 1029.5 973.2 1024.8 968.7 1023.3 964.8 1020.7 960.7 1018.5 956.4 1018.2 952.3 1016.5 948.2 1015.4 944.1 1014.3 939.7 1014.1 935.8 1012.3 934.5 1016.4 934.4 1020.8 932.6 1024.8 936.5 1028.2 940.6 1031.4 945.1 1034.1 941.3 1035.6 937.8 1037.8 933.8 1038.5 930.0 1040.0 927.4 1043.3 923.9 1045.8 922.3 1050.0 918.6 1052.3 915.7 1055.3 913.3 1058.8 910.5 1061.9 908.6 1065.8 904.8 1068.1 902.7 1071.8 900.0 1075.0 895.9 1074.7 891.9 1075.4 888.1 1077.3 883.9 1076.7 879.9 1077.0 876.1 1079.1 872.0 1079.2 867.9 1079.0 864.1 1080.7 859.9 1079.9 856.1 1081.6 851.9 1081.2 848.1 1082.9 844.0 1082.9 839.9 1082.7 836.0 1084.0 833.2 1087.5 830.1 1090.6 826.6 1093.4 823.5 1096.5 819.9 1098.7 816.4 1101.0 812.5 1102.7 808.8 1104.6 804.8 1105.9 800.6 1106.0 796.7 1107.4 792.6 1107.9 788.9 1110.0 784.6 1109.8 780.9 1111.9 776.7 1112.1 772.9 1114.6 769.1 1116.9 765.6 1119.8 761.4 1121.5 758.0 1124.6 754.1 1126.1 750.1 1127.6 746.0 1128.6 742.4 1130.8 741.5 1135.6 738.4 1139.6 737.4 1144.4 736.0 1149.0 732.4 1146.9 729.3 1144.0 725.3 1142.6 722.0 1140.0 719.3 1136.0 715.4 1133.2 712.0 1130.0 711.0 1126.1 706.6 1125.3 705.0 1122.0 704.2 1118.5 701.4 1116.3 698.4 1114.2 697.9 1110.5 695.5 1108.0 693.3 1104.1 692.5 1099.6 694.6 1096.8 695.6 1093.8 694.3 1090.2 695.6 1087.2 698.7 1087.0 701.8 1087.6 705.0 1088.8 708.1 1088.9 711.2 1087.2 713.8 1085.3 715.9 1082.6 719.9 1082.8 722.3 1080.7 725.3 1079.3 726.8 1075.9 729.9 1074.7 731.2 1071.7 733.1 1068.8 732.9 1065.6 731.8 1062.1 733.0 1059.1 733.9 1055.8 736.4 1053.2 737.9 1050.2 739.4 1047.2 739.3 1043.5 742.5 1043.5 745.7 1043.6 748.6 1041.5 751.7 1041.1 755.1 1042.5 758.0 1040.4 759.4 1037.1 762.3 1035.8 766.1 1035.5 768.1 1033.0 770.5 1031.0 767.3 1029.3 766.7 1025.5 762.9 1024.3 761.9 1020.8 758.6 1019.2 758.0 1015.4 756.9 1011.6 755.1 1008.3 751.7 1006.0 748.4 1005.7 745.2 1005.3 742.6 1009.2 739.5 1009.5 736.3 1009.9 733.0 1009.2 731.7 1012.3 729.0 1014.9 731.1 1019.4 728.6 1022.1 726.8 1025.0 727.0 1021.1 730.2 1018.8 730.9 1015.6 729.9 1012.8 727.0 1010.2 726.2 1007.3 727.7 1004.0 726.0 1000.9 724.6 997.7 723.7 994.4 724.8 990.6 725.3 987.0 722.8 984.1 724.3 980.9 723.7 977.9 720.1 975.2 722.9 971.9 721.9 968.9 722.7 965.8 721.0 962.9 721.0 962.9 718.7 959.7 719.3 956.1 719.8 952.5 720.1 948.9 718.5 945.6 720.9 943.0 721.0 939.4 720.6 935.6 723.5 933.2 726.6 931.3 727.7 927.5 731.7 926.6 733.4 923.3 736.8 923.4 739.2 920.2 742.9 921.2 745.3 917.8 749.2 919.8 752.0 917.7 754.8 915.9 758.2 915.9 760.6 913.7 764.3 914.9 766.4 912.0 769.6 911.9 772.6 911.1 775.8 911.2 778.0 908.4 780.8 910.0 784.2 907.7 787.0 909.2 789.7 911.4 792.8 910.9 795.8 911.7 799.0 911.2 801.9 912.4 804.6 914.8 807.8 914.2 811.1 913.2 814.3 912.7 817.0 915.0Z"/>
<path fill="#8d2a20" d="M203.9 813.0 200.4 815.1 196.6 816.6 192.8 818.0 189.0 819.3 186.5 822.6 184.6 826.3 181.6 829.2 179.4 834.3 176.6 839.1 172.7 841.3 168.0 841.6 164.2 844.0 161.7 847.8 166.5 851.2 171.7 854.0 174.1 861.4 171.4 866.0 166.8 869.1 164.2 873.8 160.0 875.1 155.6 875.2 151.1 874.7 146.9 876.2 142.5 877.8 138.4 880.0 134.5 882.4 129.5 881.9 124.6 881.2 119.5 880.5 114.7 878.5 109.7 877.5 107.2 875.0 104.8 881.2 97.3 882.4 93.3 884.9 88.7 886.1 88.8 890.3 88.0 894.4 87.4 898.5 90.6 902.2 92.6 906.7 94.9 910.9 94.7 915.1 95.2 919.2 95.8 923.4 95.9 927.5 96.5 931.6 97.4 935.8 96.9 940.0 97.5 944.1 97.2 948.3 97.2 952.5 98.4 956.5 98.4 960.7 98.4 964.9 99.3 969.0 100.0 973.1 99.8 977.3 99.8 984.8 103.3 987.6 107.2 989.7 102.3 994.7 98.5 997.5 95.4 1001.0 92.4 1004.6 88.8 1007.6 85.4 1010.8 82.5 1014.5 87.4 1019.5 92.4 1021.9 94.6 1025.4 97.1 1028.7 99.8 1031.8 98.2 1036.8 96.9 1041.8 94.9 1046.7 92.4 1054.1 94.7 1057.5 97.9 1060.3 99.8 1064.0 102.4 1068.1 104.3 1072.5 107.2 1076.4 112.0 1079.2 117.2 1081.4 114.5 1085.4 112.6 1089.9 109.7 1093.8 113.5 1097.4 117.2 1101.2 121.3 1103.6 125.3 1106.3 129.5 1108.6 132.1 1113.5 134.5 1118.5 132.0 1122.0 135.0 1120.4 138.7 1122.8 141.5 1119.9 144.8 1120.5 148.1 1120.8 151.3 1120.2 154.3 1118.5 156.1 1120.9 158.3 1123.0 159.3 1126.0 163.1 1123.7 166.7 1121.0 164.6 1118.2 166.8 1114.5 164.3 1111.8 164.2 1108.6 168.1 1108.2 170.4 1104.5 174.1 1103.7 176.2 1100.8 179.1 1098.7 180.7 1094.5 184.0 1091.3 187.0 1089.8 189.7 1087.6 192.6 1085.7 196.4 1086.3 199.9 1085.1 201.9 1081.6 204.8 1079.5 207.9 1077.7 211.3 1076.4 215.0 1077.6 218.7 1078.9 221.0 1076.2 224.0 1074.3 226.6 1071.9 228.6 1069.0 230.7 1066.7 234.6 1066.7 236.9 1064.6 238.5 1061.6 240.9 1058.7 245.2 1060.3 248.4 1059.4 250.9 1056.6 254.2 1054.9 254.9 1050.6 258.4 1049.2 261.7 1048.4 263.7 1045.9 264.7 1042.0 268.3 1041.7 267.2 1037.9 271.7 1035.5 270.7 1031.8 274.4 1032.4 278.2 1031.8 280.9 1034.4 283.3 1037.2 285.0 1040.4 285.6 1044.2 288.3 1046.0 288.4 1049.8 291.6 1051.3 293.0 1054.1 295.9 1056.8 294.9 1061.4 298.0 1064.0 301.0 1067.5 305.4 1069.0 306.8 1065.6 308.8 1062.5 310.4 1059.1 311.1 1056.0 311.7 1052.8 313.1 1050.0 316.7 1048.1 317.6 1045.1 317.8 1041.7 321.2 1041.3 324.1 1038.9 327.7 1039.3 330.6 1037.5 331.6 1034.3 332.3 1030.8 334.9 1028.8 337.6 1026.9 340.7 1026.2 343.1 1024.3 345.1 1021.9 346.3 1018.3 345.5 1014.4 347.2 1010.9 347.5 1007.1 350.0 1003.8 352.0 1000.1 355.1 997.7 354.9 994.1 356.6 991.1 357.0 987.7 357.4 983.9 355.0 981.3 351.5 979.1 352.0 975.3 355.2 973.0 354.9 968.6 358.0 966.2 359.5 962.9 362.5 960.6 366.6 960.7 369.4 958.0 371.8 955.1 375.7 955.8 378.6 954.2 381.7 953.0 380.9 949.8 382.2 947.0 383.2 944.1 382.8 941.0 384.2 938.2 387.1 937.0 390.1 935.9 393.6 936.7 396.1 934.1 399.1 933.2 402.5 934.6 403.9 937.5 404.0 941.5 407.2 943.0 409.0 945.6 412.8 944.4 412.6 939.3 416.5 938.2 418.9 935.7 421.0 933.5 421.5 930.1 423.7 927.9 427.0 926.6 426.4 922.3 429.0 920.5 431.3 918.4 433.9 915.5 433.2 911.1 436.2 908.4 436.7 905.1 436.2 901.8 434.6 898.5 437.1 895.2 437.4 891.9 436.2 888.6 439.6 886.2 438.1 881.3 441.2 878.7 438.7 875.9 434.4 877.7 432.1 874.6 428.8 873.8 427.5 870.3 426.1 866.9 423.9 863.9 420.3 862.7 416.7 861.6 413.9 858.9 413.1 855.6 412.7 852.3 413.9 849.0 414.2 845.3 410.9 843.0 411.7 839.1 409.0 836.6 405.7 835.0 402.0 834.0 399.1 831.7 400.2 828.0 399.1 824.2 398.7 820.8 395.0 818.7 396.2 814.5 394.1 811.8 393.3 808.6 395.7 806.0 395.6 802.9 397.3 800.2 396.6 797.0 398.2 793.7 401.6 792.1 404.1 789.6 407.9 788.5 409.0 784.6 406.3 781.8 406.3 778.3 406.5 774.7 402.4 774.8 399.1 777.2 395.5 777.3 393.4 779.6 392.4 783.5 388.2 782.9 387.5 787.2 383.5 786.8 381.7 789.5 378.0 789.7 374.3 790.3 370.6 788.9 366.9 789.5 365.4 786.3 366.3 782.9 366.0 779.6 367.1 776.1 364.3 773.1 364.4 769.7 359.5 767.2 357.2 769.7 353.7 769.7 351.5 772.7 347.6 771.5 344.8 773.0 342.1 774.7 338.9 776.5 334.9 775.8 331.5 776.7 327.7 776.8 324.8 779.6 327.2 784.6 329.5 786.9 331.7 789.3 333.9 791.7 337.8 792.1 338.6 796.2 342.1 797.0 340.0 799.7 340.3 802.8 341.1 806.0 341.4 809.1 339.6 811.8 341.1 814.6 342.8 817.4 343.9 820.3 341.8 824.3 344.6 826.7 340.8 826.5 337.7 828.1 334.3 828.9 332.3 833.3 329.0 834.4 325.2 834.1 323.0 836.7 318.9 835.0 317.5 839.2 314.6 840.2 311.8 841.4 308.3 841.0 305.8 843.1 302.9 844.0 299.4 843.4 297.3 846.9 294.3 847.7 291.2 848.5 288.1 849.0 285.0 845.7 283.1 841.6 286.9 840.4 289.4 838.0 291.5 835.2 293.0 831.7 291.6 828.8 287.9 827.7 288.7 823.3 285.6 821.7 287.9 818.6 287.8 815.3 286.8 811.8 287.2 807.3 290.6 804.4 289.5 799.8 285.6 797.0 282.1 795.8 279.5 792.6 275.7 792.0 273.8 789.0 270.5 787.2 267.6 785.2 266.0 781.9 263.3 779.6 259.8 780.6 256.6 779.6 253.4 778.4 253.9 781.7 251.6 784.2 250.9 787.1 249.6 790.6 246.4 791.6 243.9 793.6 241.3 795.4 238.5 797.0 236.4 800.3 232.0 800.1 229.2 802.4 227.5 806.2 223.7 806.9 220.2 807.3 217.4 809.9 214.3 811.6 210.8 811.9 206.9 811.0 203.9 813.0Z"/>
<path fill="#b03d2b" d="M431.3 918.4 434.5 916.6 438.0 915.2 441.2 913.4 444.3 915.2 447.6 916.0 451.1 915.9 454.1 918.1 458.0 918.6 461.0 920.8 462.2 923.7 463.4 926.5 461.1 930.0 462.4 932.8 463.5 935.7 461.6 938.4 462.8 942.0 460.7 944.7 458.5 947.2 458.5 950.5 456.6 953.7 456.6 957.8 453.6 960.5 456.8 961.6 459.2 964.4 463.3 963.2 466.0 965.4 467.6 962.1 470.4 959.9 473.4 958.0 476.9 958.0 480.3 957.7 483.3 955.5 487.3 956.3 489.9 959.4 491.6 962.6 494.2 965.2 493.8 969.6 497.3 971.7 498.7 975.3 500.9 978.0 505.4 978.5 508.4 980.4 509.7 984.1 513.4 983.9 515.9 986.6 518.7 988.6 522.1 989.1 519.8 992.9 517.2 996.5 516.5 1000.3 514.2 1003.2 512.2 1006.4 513.4 1009.9 514.9 1013.3 517.2 1016.3 513.8 1016.9 510.6 1018.1 508.0 1020.2 506.0 1023.7 502.3 1023.8 498.7 1026.7 497.3 1031.2 497.6 1034.3 496.1 1037.1 496.4 1040.2 494.4 1043.0 494.9 1046.1 495.2 1049.3 494.2 1052.1 493.4 1055.0 492.9 1058.0 489.3 1060.1 489.9 1063.4 491.3 1066.8 493.9 1069.7 494.9 1073.3 496.9 1076.4 496.4 1080.8 499.8 1083.2 501.6 1085.7 504.4 1087.5 504.4 1091.4 507.2 1093.1 506.0 1096.3 504.2 1099.0 500.7 1100.0 497.9 1101.9 495.5 1104.2 494.4 1107.4 493.0 1110.3 490.1 1111.7 486.6 1110.8 483.7 1111.7 480.9 1113.5 478.3 1115.5 475.0 1115.4 474.4 1118.7 472.7 1121.5 471.8 1124.7 470.1 1127.5 468.1 1130.2 467.3 1133.4 463.4 1133.4 461.9 1138.1 457.9 1137.8 455.8 1141.2 451.9 1141.1 451.6 1145.2 447.4 1147.4 446.8 1151.4 446.5 1154.6 445.1 1157.8 447.0 1161.0 446.8 1164.2 443.2 1165.5 440.3 1163.3 437.2 1161.9 433.9 1161.6 431.4 1158.9 428.3 1157.7 424.6 1158.6 421.5 1157.9 418.5 1156.5 416.9 1159.7 413.1 1159.9 411.5 1163.2 408.3 1164.2 405.4 1166.2 402.2 1167.4 399.0 1168.1 395.4 1166.8 394.7 1170.2 396.9 1173.7 395.4 1177.1 394.3 1180.5 398.5 1182.6 396.2 1186.2 399.8 1188.5 400.9 1191.3 398.9 1194.9 400.5 1197.6 402.2 1200.3 401.1 1203.7 403.9 1206.1 405.2 1208.9 403.2 1212.6 404.1 1215.5 405.7 1218.2 404.3 1221.8 404.8 1225.4 407.4 1228.9 405.2 1232.5 405.7 1236.1 404.9 1239.2 405.9 1242.3 404.0 1245.4 406.7 1248.5 405.7 1251.6 407.7 1254.0 404.0 1253.8 401.9 1257.5 398.3 1257.6 395.3 1259.0 394.0 1262.4 390.6 1264.6 390.4 1268.7 387.9 1271.4 384.8 1273.4 381.6 1275.4 378.0 1276.3 378.8 1273.0 380.0 1270.0 381.3 1266.9 382.9 1264.0 379.3 1262.6 378.0 1259.0 374.5 1258.8 371.6 1257.1 368.5 1255.7 365.6 1254.0 363.9 1250.9 366.8 1247.8 367.6 1244.8 365.6 1241.7 362.2 1239.7 358.2 1239.2 354.4 1240.4 353.2 1244.1 350.3 1244.8 347.5 1246.6 344.5 1246.5 341.1 1244.3 338.4 1246.6 334.9 1245.2 333.4 1241.7 334.0 1238.6 332.9 1235.5 332.5 1232.4 333.4 1229.3 335.7 1226.0 332.7 1222.0 334.7 1218.7 335.1 1215.1 333.8 1212.0 330.9 1209.7 332.1 1205.6 330.2 1202.8 327.6 1200.4 327.5 1197.1 326.8 1194.0 328.0 1190.3 325.2 1187.9 322.9 1185.8 321.1 1183.3 321.0 1179.5 317.8 1178.0 314.0 1179.0 311.3 1176.0 307.9 1175.5 304.8 1176.0 302.4 1178.8 299.2 1179.1 296.1 1179.7 293.0 1180.5 289.3 1180.4 285.6 1181.9 281.9 1178.5 278.2 1180.5 275.2 1177.9 274.7 1174.0 273.2 1170.6 276.5 1168.9 279.8 1167.3 283.1 1165.6 281.8 1161.1 278.2 1158.2 282.0 1155.8 285.6 1153.2 289.3 1152.0 290.6 1148.3 294.0 1146.8 295.5 1143.3 298.2 1141.5 300.0 1138.9 300.9 1135.7 302.9 1133.4 300.6 1130.5 301.5 1126.7 300.5 1123.5 297.9 1121.6 296.7 1118.6 294.3 1116.5 293.0 1113.6 295.0 1110.6 293.4 1106.7 295.5 1103.7 296.1 1099.9 297.4 1096.4 300.5 1093.8 301.5 1090.2 302.8 1086.7 305.4 1083.9 305.0 1080.2 303.8 1076.5 306.7 1072.7 305.4 1069.0 306.8 1065.6 308.8 1062.5 310.4 1059.1 311.1 1056.0 311.7 1052.8 313.1 1050.0 316.7 1048.1 317.6 1045.1 317.8 1041.7 321.2 1041.3 324.1 1038.9 327.7 1039.3 330.6 1037.5 331.6 1034.3 332.3 1030.8 334.9 1028.8 337.6 1026.9 340.7 1026.2 343.1 1024.3 345.1 1021.9 346.3 1018.3 345.5 1014.4 347.2 1010.9 347.5 1007.1 350.0 1003.8 352.0 1000.1 355.1 997.7 354.9 994.1 356.6 991.1 357.0 987.7 357.4 983.9 355.0 981.3 351.5 979.1 352.0 975.3 355.2 973.0 354.9 968.6 358.0 966.2 359.5 962.9 362.5 960.6 366.6 960.7 369.4 958.0 371.8 955.1 375.7 955.8 378.6 954.2 381.7 953.0 380.9 949.8 382.2 947.0 383.2 944.1 382.8 941.0 384.2 938.2 387.1 937.0 390.1 935.9 393.6 936.7 396.1 934.1 399.1 933.2 402.5 934.6 403.9 937.5 404.0 941.5 407.2 943.0 409.0 945.6 412.8 944.4 412.6 939.3 416.5 938.2 418.9 935.7 421.0 933.5 421.5 930.1 423.7 927.9 427.0 926.6 426.4 922.3 429.0 920.5 431.3 918.4Z"/>
<path fill="#ad7b29" d="M132.0 1122.0 135.0 1120.4 138.7 1122.8 141.5 1119.9 144.8 1120.5 148.1 1120.8 151.3 1120.2 154.3 1118.5 156.1 1120.9 158.3 1123.0 159.3 1126.0 163.1 1123.7 166.7 1121.0 164.6 1118.2 166.8 1114.5 164.3 1111.8 164.2 1108.6 168.1 1108.2 170.4 1104.5 174.1 1103.7 176.2 1100.8 179.1 1098.7 180.7 1094.5 184.0 1091.3 187.0 1089.8 189.7 1087.6 192.6 1085.7 196.4 1086.3 199.9 1085.1 201.9 1081.6 204.8 1079.5 207.9 1077.7 211.3 1076.4 215.0 1077.6 218.7 1078.9 221.0 1076.2 224.0 1074.3 226.6 1071.9 228.6 1069.0 230.7 1066.7 234.6 1066.7 236.9 1064.6 238.5 1061.6 240.9 1058.7 245.2 1060.3 248.4 1059.4 250.9 1056.6 254.2 1054.9 254.9 1050.6 258.4 1049.2 261.7 1048.4 263.7 1045.9 264.7 1042.0 268.3 1041.7 267.2 1037.9 271.7 1035.5 270.7 1031.8 274.4 1032.4 278.2 1031.8 280.9 1034.4 283.3 1037.2 285.0 1040.4 285.6 1044.2 288.3 1046.0 288.4 1049.8 291.6 1051.3 293.0 1054.1 295.9 1056.8 294.9 1061.4 298.0 1064.0 301.0 1067.5 305.4 1069.0 306.7 1072.7 303.8 1076.5 305.0 1080.2 305.4 1083.9 302.8 1086.7 301.5 1090.2 300.5 1093.8 297.4 1096.4 296.1 1099.9 295.5 1103.7 293.4 1106.7 295.0 1110.6 293.0 1113.6 294.3 1116.5 296.7 1118.6 297.9 1121.6 300.5 1123.5 301.5 1126.7 300.6 1130.5 302.9 1133.4 300.9 1135.7 300.0 1138.9 298.2 1141.5 295.5 1143.3 294.0 1146.8 290.6 1148.3 289.3 1152.0 285.6 1153.2 282.0 1155.8 278.2 1158.2 281.8 1161.1 283.1 1165.6 279.8 1167.3 276.5 1168.9 273.2 1170.6 274.7 1174.0 275.2 1177.9 278.2 1180.5 281.9 1178.5 285.6 1181.9 289.3 1180.4 293.0 1180.5 296.1 1179.7 299.2 1179.1 302.4 1178.8 304.8 1176.0 307.9 1175.5 311.3 1176.0 314.0 1179.0 317.8 1178.0 321.0 1179.5 321.1 1183.3 322.9 1185.8 325.2 1187.9 328.0 1190.3 326.8 1194.0 327.5 1197.1 327.6 1200.4 330.2 1202.8 332.1 1205.6 330.9 1209.7 333.8 1212.0 335.1 1215.1 334.7 1218.7 332.7 1222.0 335.7 1226.0 333.4 1229.3 332.5 1232.4 332.9 1235.5 334.0 1238.6 333.4 1241.7 334.9 1245.2 338.4 1246.6 340.1 1250.1 340.8 1254.0 341.4 1257.0 341.7 1260.0 341.2 1263.1 343.9 1265.7 343.3 1268.9 343.1 1272.4 342.6 1275.9 341.6 1279.2 340.0 1282.6 340.8 1286.2 341.0 1289.5 338.3 1292.2 339.4 1295.6 338.4 1298.6 337.3 1301.4 337.1 1304.6 335.2 1307.1 332.3 1309.2 332.5 1312.5 330.9 1315.2 330.9 1318.4 330.1 1321.5 328.7 1324.4 327.4 1327.3 324.9 1329.6 323.3 1332.4 321.4 1335.0 321.0 1338.3 316.6 1337.4 312.5 1335.2 307.9 1334.8 303.7 1333.3 299.4 1332.6 295.4 1330.8 291.2 1329.9 287.4 1327.7 282.8 1327.8 278.9 1325.9 274.5 1325.7 270.4 1327.9 265.8 1327.1 261.6 1328.4 258.0 1326.3 253.9 1325.1 250.4 1322.8 246.7 1320.9 243.9 1316.1 241.7 1311.0 237.2 1310.7 232.8 1310.0 228.4 1309.0 224.0 1308.0 224.1 1304.5 223.8 1301.0 225.7 1297.8 225.4 1293.8 229.9 1291.7 229.7 1287.7 228.9 1284.6 229.1 1281.2 225.2 1279.1 225.7 1275.6 222.5 1274.0 220.3 1271.6 220.5 1267.3 217.6 1265.5 217.3 1261.5 222.0 1259.5 221.6 1255.4 219.7 1252.4 215.7 1252.0 213.6 1249.3 211.7 1245.7 207.2 1245.9 205.3 1242.1 201.5 1241.3 198.6 1239.8 195.6 1239.0 192.4 1239.7 189.3 1239.3 186.0 1238.3 183.1 1239.3 180.1 1240.1 177.2 1241.3 173.4 1241.0 171.1 1244.7 167.7 1245.2 164.0 1245.3 161.1 1247.3 158.1 1248.8 155.1 1250.6 151.7 1250.7 147.9 1249.2 145.0 1251.4 141.5 1250.0 138.8 1254.1 135.4 1253.2 132.1 1253.8 128.8 1253.4 128.3 1249.4 129.6 1245.3 128.8 1241.3 131.4 1236.9 134.9 1233.2 138.4 1228.6 142.9 1225.1 138.7 1224.2 135.0 1222.0 132.1 1219.1 129.0 1216.2 126.2 1213.1 122.8 1210.6 118.8 1208.9 115.7 1206.1 113.5 1202.3 110.0 1200.0 109.4 1195.7 108.8 1191.4 107.6 1187.2 106.3 1183.0 106.2 1178.6 105.6 1174.3 105.0 1170.0 106.2 1165.8 105.6 1161.2 107.8 1157.2 108.1 1152.8 108.6 1148.4 108.6 1144.4 112.5 1141.2 116.7 1138.3 121.2 1135.9 124.8 1132.3 126.6 1128.4 128.9 1125.0 132.0 1122.0Z"/>
<path fill="#8d2a20" d="M128.8 1253.4 132.1 1253.8 135.4 1253.2 138.8 1254.1 141.5 1250.0 145.0 1251.4 147.9 1249.2 151.7 1250.7 155.1 1250.6 158.1 1248.8 161.1 1247.3 164.0 1245.3 167.7 1245.2 171.1 1244.7 173.4 1241.0 177.2 1241.3 180.1 1240.1 183.1 1239.3 186.0 1238.3 189.3 1239.3 192.4 1239.7 195.6 1239.0 198.6 1239.8 201.5 1241.3 205.3 1242.1 207.2 1245.9 211.7 1245.7 213.6 1249.3 215.7 1252.0 219.7 1252.4 221.6 1255.4 222.0 1259.5 217.3 1261.5 217.6 1265.5 220.5 1267.3 220.3 1271.6 222.5 1274.0 225.7 1275.6 225.2 1279.1 229.1 1281.2 228.9 1284.6 229.7 1287.7 229.9 1291.7 225.4 1293.8 225.7 1297.8 223.8 1301.0 224.1 1304.5 224.0 1308.0 220.2 1310.1 217.0 1313.1 213.6 1315.9 208.9 1314.8 204.0 1315.2 199.4 1313.9 196.3 1310.4 192.3 1307.9 188.6 1305.1 185.3 1301.8 183.4 1296.5 180.0 1292.0 176.7 1288.2 173.2 1284.6 169.2 1281.6 165.0 1279.8 161.1 1277.6 156.8 1276.1 153.0 1273.6 149.0 1267.5 145.1 1264.3 140.9 1261.5 135.9 1260.4 130.8 1259.4 128.8 1253.4Z"/>
<path fill="#ad7b29" d="M338.4 1246.6 341.1 1244.3 344.5 1246.5 347.5 1246.6 350.3 1244.8 353.2 1244.1 354.4 1240.4 358.2 1239.2 362.2 1239.7 365.6 1241.7 367.6 1244.8 366.8 1247.8 363.9 1250.9 365.6 1254.0 368.5 1255.7 371.6 1257.1 374.5 1258.8 378.0 1259.0 379.3 1262.6 382.9 1264.0 381.3 1266.9 380.0 1270.0 378.8 1273.0 378.0 1276.3 381.6 1275.4 384.8 1273.4 387.9 1271.4 390.4 1268.7 390.6 1264.6 394.0 1262.4 395.3 1259.0 398.3 1257.6 401.9 1257.5 404.0 1253.8 407.7 1254.0 405.7 1251.6 409.6 1250.3 410.8 1246.4 414.3 1245.6 416.1 1241.6 419.2 1240.0 423.4 1240.8 426.2 1238.7 429.7 1237.0 430.2 1232.4 433.4 1230.4 436.5 1228.4 434.6 1225.2 430.4 1224.2 428.8 1220.7 432.5 1220.8 435.2 1218.1 437.7 1215.2 441.6 1215.6 444.5 1214.6 447.6 1215.0 450.6 1214.1 453.7 1214.6 456.4 1212.0 459.6 1213.0 459.1 1216.5 461.4 1219.3 461.0 1222.8 462.2 1225.9 465.5 1225.8 468.5 1224.3 471.7 1223.5 475.0 1223.3 475.5 1226.9 476.5 1230.3 478.6 1233.0 480.9 1235.7 482.7 1238.7 482.7 1242.3 482.7 1246.0 480.2 1249.0 484.7 1249.5 487.9 1246.4 487.8 1249.8 487.9 1253.1 490.5 1255.9 490.5 1259.3 493.9 1258.4 497.6 1258.5 500.6 1256.6 503.3 1254.1 504.9 1256.9 507.8 1258.8 509.3 1261.7 511.0 1264.4 509.4 1267.8 511.5 1271.2 510.3 1274.7 510.6 1278.1 509.4 1281.5 511.0 1284.9 510.2 1288.1 512.7 1290.8 514.3 1293.6 513.7 1296.8 513.5 1299.9 513.6 1302.9 515.0 1305.7 515.9 1308.7 517.4 1311.5 521.9 1312.2 521.0 1316.5 523.8 1318.3 522.6 1322.2 523.8 1326.0 525.3 1329.6 528.7 1331.4 532.2 1333.1 534.1 1336.3 535.7 1339.9 538.4 1342.3 541.3 1344.5 544.4 1346.6 542.7 1349.6 545.0 1352.6 546.1 1355.6 544.2 1358.6 543.2 1361.6 544.4 1364.6 546.0 1367.9 544.3 1371.6 544.0 1375.1 547.2 1378.1 546.1 1381.7 547.0 1385.1 543.6 1385.1 540.6 1386.5 537.6 1388.2 534.1 1387.7 531.0 1386.8 529.5 1383.5 526.4 1382.6 525.8 1385.9 527.6 1388.7 529.6 1391.6 527.3 1395.1 529.0 1398.0 527.1 1401.1 528.3 1405.1 526.4 1408.2 523.7 1409.6 520.5 1410.3 518.0 1412.0 516.3 1415.0 513.5 1416.8 510.9 1418.8 507.9 1420.3 506.0 1423.4 503.2 1425.3 499.8 1426.1 500.1 1430.1 497.2 1433.2 497.0 1437.1 499.1 1439.6 500.1 1442.7 502.3 1445.1 503.6 1448.1 505.3 1450.8 507.1 1453.8 508.0 1457.0 504.7 1460.7 507.6 1463.6 509.1 1466.7 508.0 1470.1 508.2 1473.7 508.3 1477.2 511.4 1480.2 510.8 1483.9 510.4 1487.1 511.4 1490.3 510.7 1493.5 512.7 1496.7 512.7 1499.9 510.8 1503.1 507.8 1505.8 507.2 1509.2 507.6 1513.0 506.1 1516.2 505.3 1519.6 507.5 1522.0 507.0 1525.6 509.7 1527.8 510.8 1530.7 507.7 1534.2 508.0 1538.9 504.2 1539.3 500.6 1540.5 497.0 1541.3 494.2 1544.4 491.2 1546.4 488.2 1548.4 484.7 1548.8 481.4 1550.0 477.7 1549.9 475.2 1552.8 472.0 1554.3 468.0 1553.8 464.3 1554.1 461.8 1557.0 458.5 1558.2 454.6 1556.6 450.8 1554.9 446.9 1553.2 443.1 1551.6 439.2 1549.9 434.8 1549.3 430.7 1547.8 427.1 1545.0 422.7 1544.4 418.2 1543.7 414.0 1542.0 409.4 1541.5 405.2 1539.7 400.7 1538.9 396.2 1540.5 391.6 1541.3 386.9 1541.7 382.5 1537.8 378.6 1533.4 374.5 1532.7 370.4 1533.4 367.6 1529.8 364.9 1526.0 362.1 1522.4 356.6 1521.0 351.1 1519.6 346.8 1522.7 343.9 1527.1 340.1 1530.7 337.2 1534.7 334.6 1538.9 336.8 1543.4 340.1 1547.2 334.6 1552.7 330.2 1551.9 325.7 1552.2 321.5 1550.5 317.1 1550.0 312.6 1549.9 308.8 1551.3 304.7 1551.4 300.9 1553.0 296.7 1552.2 292.9 1553.8 289.1 1555.3 285.0 1555.4 280.3 1556.7 275.4 1556.5 270.7 1558.1 265.8 1558.2 262.1 1554.8 257.5 1552.7 253.6 1549.3 250.3 1545.2 246.5 1541.7 246.8 1537.5 248.7 1533.6 249.1 1529.4 249.3 1525.2 249.5 1520.4 249.4 1515.5 249.9 1510.7 250.6 1505.9 251.5 1501.7 253.2 1497.8 254.1 1493.6 254.8 1489.4 253.9 1484.8 252.7 1480.2 252.0 1475.6 253.7 1471.5 254.7 1467.2 255.5 1462.9 255.6 1458.4 256.5 1454.2 258.0 1450.0 260.0 1446.5 261.6 1442.7 262.4 1438.7 264.5 1435.2 264.8 1431.0 267.1 1427.5 269.0 1424.0 270.0 1420.0 271.7 1416.3 272.9 1412.3 276.0 1409.2 277.5 1405.4 278.9 1401.6 279.9 1397.5 283.0 1394.4 283.9 1390.3 285.6 1385.7 289.2 1382.2 291.3 1377.9 293.4 1374.4 296.9 1371.8 298.7 1368.0 300.6 1363.9 304.0 1360.8 306.7 1357.2 308.6 1353.1 311.1 1348.9 314.1 1345.1 317.2 1341.4 321.0 1338.3 321.4 1335.0 323.3 1332.4 324.9 1329.6 327.4 1327.3 328.7 1324.4 330.1 1321.5 330.9 1318.4 330.9 1315.2 332.5 1312.5 332.3 1309.2 335.2 1307.1 337.1 1304.6 337.3 1301.4 338.4 1298.6 339.4 1295.6 338.3 1292.2 341.0 1289.5 340.8 1286.2 340.0 1282.6 341.6 1279.2 342.6 1275.9 343.1 1272.4 343.3 1268.9 343.9 1265.7 341.2 1263.1 341.7 1260.0 341.4 1257.0 340.8 1254.0 340.1 1250.1 338.4 1246.6Z"/>
<path fill="#66b821" d="M507.2 1093.1 510.5 1094.7 513.8 1096.1 516.9 1098.1 519.6 1100.6 521.6 1103.8 525.8 1103.2 528.2 1105.8 531.5 1106.7 534.3 1108.6 537.0 1110.5 539.4 1113.6 542.2 1115.9 546.6 1115.6 549.4 1117.9 552.6 1118.9 553.7 1122.6 557.5 1122.9 560.5 1124.3 561.7 1127.8 560.8 1131.2 563.2 1133.9 562.3 1137.4 564.2 1140.2 567.7 1141.5 570.1 1144.8 574.1 1145.1 577.3 1143.3 580.1 1140.6 584.0 1140.2 579.9 1137.6 579.1 1132.8 580.9 1129.6 582.9 1126.4 584.0 1122.8 587.7 1123.1 589.6 1118.8 593.5 1119.6 596.4 1117.9 599.8 1119.3 602.6 1121.6 606.4 1122.2 608.8 1125.3 611.5 1127.2 612.7 1130.3 613.4 1133.8 617.9 1134.2 618.7 1137.7 622.4 1135.2 626.1 1132.8 627.3 1129.5 628.0 1126.2 624.9 1122.9 624.6 1119.6 627.9 1116.3 626.1 1113.0 629.5 1111.6 629.8 1108.0 630.3 1104.4 633.6 1103.0 637.3 1103.9 640.1 1101.0 643.5 1100.6 644.8 1104.2 648.1 1105.9 650.0 1109.0 654.4 1109.6 655.9 1113.0 658.6 1115.3 662.5 1114.4 665.3 1116.3 668.3 1117.9 672.2 1117.5 675.5 1115.8 678.2 1113.0 680.7 1110.9 683.7 1110.3 686.7 1110.1 689.8 1109.7 692.5 1108.4 695.5 1108.0 697.9 1110.5 698.4 1114.2 701.4 1116.3 704.2 1118.5 705.0 1122.0 706.6 1125.3 711.0 1126.1 712.0 1130.0 714.3 1133.6 714.2 1138.1 717.0 1141.5 718.6 1145.4 720.2 1149.2 721.1 1153.4 722.7 1158.0 723.5 1162.9 726.6 1168.0 730.6 1172.5 735.8 1174.1 740.2 1177.3 744.5 1179.0 747.9 1182.3 752.1 1184.4 754.2 1188.2 756.1 1192.0 756.9 1196.3 754.3 1200.2 752.0 1204.2 749.7 1208.3 747.3 1213.0 745.0 1217.8 745.8 1222.6 747.3 1227.3 750.9 1229.1 753.3 1232.6 756.9 1234.5 757.3 1239.3 759.3 1243.9 759.3 1248.8 762.2 1252.4 764.0 1256.7 766.4 1260.7 768.8 1264.7 771.5 1268.5 773.6 1272.7 777.3 1276.2 780.1 1280.5 783.1 1284.6 787.2 1284.8 791.1 1286.4 795.1 1287.0 797.6 1290.4 801.5 1292.5 803.9 1296.0 807.0 1298.9 809.5 1302.1 813.1 1304.2 815.2 1307.9 817.9 1310.9 821.3 1313.2 825.4 1316.2 829.3 1319.5 833.2 1322.8 837.6 1326.8 842.8 1329.9 843.9 1334.1 845.3 1338.2 845.6 1342.6 847.5 1346.6 851.6 1346.3 855.4 1344.7 859.5 1344.2 863.0 1347.1 866.0 1350.4 869.0 1353.8 872.1 1357.3 874.3 1361.5 877.5 1364.9 880.9 1368.1 882.0 1372.0 884.0 1375.5 885.7 1379.1 888.1 1382.4 889.4 1387.1 889.0 1392.0 887.1 1395.7 884.6 1399.0 882.8 1402.7 881.7 1406.7 876.7 1405.9 871.9 1404.4 867.0 1403.0 862.1 1402.8 857.2 1403.2 852.3 1403.0 851.0 1407.9 850.6 1413.0 848.6 1417.7 847.5 1422.6 846.2 1427.5 845.0 1432.4 841.8 1435.8 838.0 1438.4 833.5 1440.0 830.3 1443.4 825.7 1444.4 821.3 1445.6 817.0 1447.6 812.5 1448.7 808.3 1450.7 804.3 1452.3 800.6 1454.5 797.7 1458.0 793.4 1459.3 789.9 1461.7 787.5 1465.6 784.1 1468.9 782.0 1473.0 778.9 1476.4 781.0 1480.1 782.6 1484.2 785.3 1487.6 788.1 1490.9 789.9 1494.8 792.6 1498.5 795.5 1502.0 797.5 1506.2 800.9 1509.4 800.0 1514.4 798.8 1519.3 797.2 1524.1 799.8 1527.9 803.3 1531.0 805.4 1535.2 808.3 1538.8 809.3 1544.6 811.9 1549.8 811.0 1554.4 810.5 1559.1 809.3 1563.6 808.3 1568.2 804.7 1566.3 800.7 1565.1 797.0 1563.3 793.6 1560.8 790.6 1557.5 788.4 1553.7 786.2 1549.8 782.4 1547.5 778.7 1545.3 775.2 1542.5 770.6 1543.0 766.0 1543.2 761.5 1542.4 756.9 1542.5 753.5 1540.1 749.5 1538.8 745.2 1537.2 740.7 1535.8 736.4 1534.2 731.7 1533.5 727.5 1531.5 723.6 1534.9 720.2 1538.8 720.3 1544.3 720.2 1549.8 716.1 1549.7 712.0 1549.6 707.8 1549.9 703.7 1550.1 699.6 1550.3 695.5 1550.3 691.3 1549.8 687.2 1549.8 682.9 1550.6 678.6 1550.9 674.5 1552.5 670.1 1552.5 665.7 1552.2 661.5 1553.5 660.1 1559.2 657.8 1564.5 653.2 1566.2 648.6 1568.2 644.1 1570.3 639.4 1571.8 635.2 1573.5 632.3 1577.0 628.4 1579.2 624.1 1579.0 619.9 1580.4 615.7 1580.9 611.3 1579.7 607.1 1580.8 602.8 1581.0 599.4 1578.3 597.1 1574.7 594.4 1571.5 591.7 1568.2 588.3 1565.4 584.0 1563.9 580.7 1560.8 576.2 1560.6 572.0 1558.5 567.6 1558.2 563.0 1558.5 558.7 1557.2 553.7 1556.3 548.8 1555.0 544.0 1553.5 543.7 1557.9 543.8 1562.3 543.4 1566.7 543.4 1571.1 544.0 1575.5 541.1 1579.2 537.8 1582.6 534.9 1586.3 532.0 1589.9 529.4 1593.9 525.7 1595.7 522.0 1597.5 520.6 1593.6 518.7 1590.0 517.2 1586.1 514.7 1582.8 510.7 1581.6 507.3 1579.2 505.5 1573.9 502.5 1569.2 498.3 1567.2 495.5 1563.3 491.5 1561.0 487.0 1559.0 482.3 1557.3 477.7 1555.4 472.8 1555.3 468.1 1556.7 463.3 1557.6 458.5 1558.2 461.8 1557.0 464.3 1554.1 468.0 1553.8 472.0 1554.3 475.2 1552.8 477.7 1549.9 481.4 1550.0 484.7 1548.8 488.2 1548.4 491.2 1546.4 494.2 1544.4 497.0 1541.3 500.6 1540.5 504.2 1539.3 508.0 1538.9 507.7 1534.2 510.8 1530.7 509.7 1527.8 507.0 1525.6 507.5 1522.0 505.3 1519.6 506.1 1516.2 507.6 1513.0 507.2 1509.2 507.8 1505.8 510.8 1503.1 512.7 1499.9 512.7 1496.7 510.7 1493.5 511.4 1490.3 510.4 1487.1 510.8 1483.9 511.4 1480.2 508.3 1477.2 508.2 1473.7 508.0 1470.1 509.1 1466.7 507.6 1463.6 504.7 1460.7 508.0 1457.0 507.1 1453.8 505.3 1450.8 503.6 1448.1 502.3 1445.1 500.1 1442.7 499.1 1439.6 497.0 1437.1 497.2 1433.2 500.1 1430.1 499.8 1426.1 503.2 1425.3 506.0 1423.4 507.9 1420.3 510.9 1418.8 513.5 1416.8 516.3 1415.0 518.0 1412.0 520.5 1410.3 523.7 1409.6 526.4 1408.2 528.3 1405.1 527.1 1401.1 529.0 1398.0 527.3 1395.1 529.6 1391.6 527.6 1388.7 525.8 1385.9 526.4 1382.6 529.5 1383.5 531.0 1386.8 534.1 1387.7 537.6 1388.2 540.6 1386.5 543.6 1385.1 547.0 1385.1 546.1 1381.7 547.2 1378.1 544.0 1375.1 544.3 1371.6 546.0 1367.9 544.4 1364.6 543.2 1361.6 544.2 1358.6 546.1 1355.6 545.0 1352.6 542.7 1349.6 544.4 1346.6 541.3 1344.5 538.4 1342.3 535.7 1339.9 534.1 1336.3 532.2 1333.1 528.7 1331.4 525.3 1329.6 523.8 1326.0 522.6 1322.2 523.8 1318.3 521.0 1316.5 521.9 1312.2 517.4 1311.5 515.9 1308.7 515.0 1305.7 513.6 1302.9 513.5 1299.9 513.7 1296.8 514.3 1293.6 512.7 1290.8 510.2 1288.1 511.0 1284.9 509.4 1281.5 510.6 1278.1 510.3 1274.7 511.5 1271.2 509.4 1267.8 511.0 1264.4 509.3 1261.7 507.8 1258.8 504.9 1256.9 503.3 1254.1 500.6 1256.6 497.6 1258.5 493.9 1258.4 490.5 1259.3 490.5 1255.9 487.9 1253.1 487.8 1249.8 487.9 1246.4 484.7 1249.5 480.2 1249.0 482.7 1246.0 482.7 1242.3 482.7 1238.7 480.9 1235.7 478.6 1233.0 476.5 1230.3 475.5 1226.9 475.0 1223.3 471.7 1223.5 468.5 1224.3 465.5 1225.8 462.2 1225.9 461.0 1222.8 461.4 1219.3 459.1 1216.5 459.6 1213.0 456.4 1212.0 453.7 1214.6 450.6 1214.1 447.6 1215.0 444.5 1214.6 441.6 1215.6 437.7 1215.2 435.2 1218.1 432.5 1220.8 428.8 1220.7 430.4 1224.2 434.6 1225.2 436.5 1228.4 433.4 1230.4 430.2 1232.4 429.7 1237.0 426.2 1238.7 423.4 1240.8 419.2 1240.0 416.1 1241.6 414.3 1245.6 410.8 1246.4 409.6 1250.3 405.7 1251.6 406.7 1248.5 404.0 1245.4 405.9 1242.3 404.9 1239.2 405.7 1236.1 405.2 1232.5 407.4 1228.9 404.8 1225.4 404.3 1221.8 405.7 1218.2 404.1 1215.5 403.2 1212.6 405.2 1208.9 403.9 1206.1 401.1 1203.7 402.2 1200.3 400.5 1197.6 398.9 1194.9 400.9 1191.3 399.8 1188.5 396.2 1186.2 398.5 1182.6 394.3 1180.5 395.4 1177.1 396.9 1173.7 394.7 1170.2 395.4 1166.8 399.0 1168.1 402.2 1167.4 405.4 1166.2 408.3 1164.2 411.5 1163.2 413.1 1159.9 416.9 1159.7 418.5 1156.5 421.5 1157.9 424.6 1158.6 428.3 1157.7 431.4 1158.9 433.9 1161.6 437.2 1161.9 440.3 1163.3 443.2 1165.5 446.8 1164.2 447.0 1161.0 445.1 1157.8 446.5 1154.6 446.8 1151.4 447.4 1147.4 451.6 1145.2 451.9 1141.1 455.8 1141.2 457.9 1137.8 461.9 1138.1 463.4 1133.4 467.3 1133.4 468.1 1130.2 470.1 1127.5 471.8 1124.7 472.7 1121.5 474.4 1118.7 475.0 1115.4 478.3 1115.5 480.9 1113.5 483.7 1111.7 486.6 1110.8 490.1 1111.7 493.0 1110.3 494.4 1107.4 495.5 1104.2 497.9 1101.9 500.7 1100.0 504.2 1099.0 506.0 1096.3 507.2 1093.1Z"/>
<path fill="#a5221a" d="M472.1 591.5 470.7 588.2 472.3 584.9 472.1 581.6 474.7 577.5 479.5 576.6 482.6 576.7 485.6 578.5 488.7 578.1 491.7 577.4 494.8 575.6 497.8 576.1 500.9 575.3 503.9 577.7 507.0 576.7 510.0 577.7 513.1 575.9 516.1 575.5 519.2 576.6 516.8 579.5 514.9 582.5 515.5 586.5 514.5 590.0 515.1 593.2 516.7 596.4 517.5 599.6 519.6 601.9 523.1 603.2 524.1 606.3 525.7 608.8 527.9 611.0 529.1 613.8 525.9 613.5 523.0 614.3 520.1 615.2 517.2 616.0 514.5 617.4 511.7 618.7 508.0 619.6 504.6 618.9 501.8 616.2 498.7 617.9 495.6 616.0 492.6 618.0 489.5 616.2 486.4 612.9 484.5 608.8 482.2 605.6 479.3 603.2 475.8 601.4 476.3 597.4 475.1 594.1 472.1 591.5Z"/>
<path fill="#b03d2b" d="M865.4 398.1 864.6 401.7 861.0 406.9 861.7 412.0 866.1 418.6 873.4 419.4 885.9 415.3 891.1 420.8 889.6 425.2 879.3 435.5 885.2 447.2 899.1 456.8 894.7 463.4 895.5 470.0 889.6 465.6 883.7 459.7 876.4 455.3 866.1 466.3 863.9 473.7 856.6 475.1 854.4 470.7 847.0 469.3 836.0 467.1 841.1 463.4 833.8 457.5 835.3 452.4 844.1 450.9 847.0 447.2 839.7 441.4 834.5 439.2 839.7 432.6 844.1 429.6 838.2 426.7 836.7 421.6 842.6 420.1 838.2 418.6 844.8 412.0 844.8 404.7 850.7 399.5Z"/>
<path fill="#b03d2b" d="M900.5 489.0 905.5 491.5 910.5 503.9 920.4 513.8 927.8 518.7 937.7 523.7 945.1 528.6 946.4 538.5 940.2 538.5 930.3 533.6 915.0 528.0 900.0 520.0 893.0 505.0Z"/>
<path fill="#f0f2ec" stroke="none" d="M755.6 449.4 764.3 444.4 796.5 443.2 799.0 451.8 784.0 451.8 769.3 454.3Z"/>
<path fill="#f0f2ec" stroke="none" d="M860.2 412.5 866.1 419.5 874.9 421.2 874.2 428.2 872.7 434.0 867.6 433.3 863.2 425.2 858.8 417.0 853.0 421.0 852.0 417.0 857.0 409.0Z"/>
<path fill="#b03d2b" d="M818.2 758.4 821.7 756.5 824.8 754.2 827.3 751.2 829.8 748.2 833.0 746.0 836.5 746.4 840.0 746.9 843.4 748.1 847.0 747.4 850.4 748.5 855.3 750.0 860.0 752.0 861.3 755.5 863.2 758.7 864.8 762.0 865.1 765.9 866.4 769.4 868.7 772.4 870.2 775.8 873.4 777.5 876.9 778.7 879.8 780.9 882.6 783.2 881.4 786.7 878.5 789.0 876.5 792.0 875.6 795.8 872.7 798.1 869.5 795.2 865.0 794.8 862.0 791.6 857.8 790.6 854.0 789.2 850.0 788.4 845.8 790.0 841.9 788.9 838.0 788.2 833.6 787.1 829.3 789.6 825.0 789.5 820.6 788.2 819.1 784.8 817.3 781.6 815.7 778.3 817.4 774.5 817.5 770.4 817.3 766.4 819.1 762.6Z"/>
<path fill="#ad7b29" d="M341.4 649.4 345.9 651.4 350.4 653.3 353.6 655.3 356.8 657.2 361.8 658.3 367.0 658.4 371.4 659.8 375.7 661.5 379.9 663.6 383.8 663.4 387.6 662.3 391.5 662.3 393.0 667.4 396.6 671.3 394.8 675.4 393.9 679.8 392.7 684.1 388.4 685.2 384.2 684.5 379.9 684.1 378.3 679.7 377.3 675.1 374.9 672.0 372.3 669.0 369.6 666.1 366.7 663.4 363.4 661.5 359.4 661.0 354.9 658.5 350.4 655.9 347.1 654.1 343.9 652.0Z"/>
<path fill="#ad7b29" d="M352.9 585.2 363.2 582.7 359.4 590.4 360.6 596.8 352.9 607.1 350.5 598.0 351.5 590.0Z"/>
<path fill="none" stroke="#fdfaee" stroke-width="3" stroke-linejoin="round" d="M590.0 521.0 592.0 523.7 593.7 526.7 596.8 528.7 598.0 532.0 595.3 535.3 591.0 535.0 588.7 537.7 586.0 540.0 586.4 543.4 585.4 546.7 583.7 549.9 584.6 553.3 585.1 556.7 585.0 560.0 587.1 562.6 589.4 565.1 593.5 565.6 594.7 569.2 592.7 572.3 592.8 575.7 593.5 579.1 590.5 581.7 589.1 585.2 588.5 589.0 586.4 592.9 583.6 596.4 580.8 598.3 578.4 600.8 574.4 600.4 572.5 604.0 568.7 603.9 567.5 607.6 563.8 608.8 564.4 612.0 564.1 615.0 562.9 617.8 563.6 621.0 561.3 623.7 M399.0 540.0 401.8 537.7 404.8 537.9 407.8 537.4 410.9 538.1 413.8 536.4 417.0 538.0 419.6 540.9 423.3 541.6 427.4 541.5 430.0 544.4 432.7 546.3 434.2 549.0 436.0 551.5 438.7 553.4 438.2 557.6 439.6 560.4 443.1 561.6 444.9 564.2 446.6 567.1 449.6 569.2 451.2 572.1 452.0 575.5 454.0 578.2 454.8 581.6 457.0 584.4 461.2 583.7 464.4 584.9 465.4 589.8 469.2 589.9 472.1 591.5 M472.1 591.5 470.7 588.2 472.3 584.9 472.1 581.6 474.7 577.5 479.5 576.6 482.6 576.7 485.6 578.5 488.7 578.1 491.7 577.4 494.8 575.6 497.8 576.1 500.9 575.3 503.9 577.7 507.0 576.7 510.0 577.7 513.1 575.9 516.1 575.5 519.2 576.6 516.8 579.5 514.9 582.5 515.5 586.5 514.5 590.0 515.1 593.2 516.7 596.4 517.5 599.6 519.6 601.9 523.1 603.2 524.1 606.3 525.7 608.8 527.9 611.0 529.1 613.8 M472.1 591.5 475.1 594.1 476.3 597.4 475.8 601.4 479.3 603.2 482.2 605.6 484.5 608.8 486.4 612.9 489.5 616.2 492.6 618.0 495.6 616.0 498.7 617.9 501.8 616.2 504.6 618.9 508.0 619.6 511.7 618.7 514.5 617.4 517.2 616.0 520.1 615.2 523.0 614.3 525.9 613.5 529.1 613.8 M529.1 613.8 532.0 615.5 534.7 617.7 537.9 618.7 541.5 618.7 544.6 619.9 547.5 621.8 550.4 623.6 553.9 623.7 557.6 622.0 561.3 623.7 M561.3 623.7 564.6 625.3 567.8 627.2 571.4 627.7 574.9 628.6 578.6 628.6 581.9 629.3 585.5 629.0 588.5 631.1 592.1 631.4 594.9 628.8 598.4 628.6 598.5 632.1 599.2 635.5 602.5 637.7 603.4 641.0 605.7 643.2 606.0 647.1 608.6 649.0 612.4 650.1 613.3 653.4 616.8 654.8 619.2 657.4 619.6 662.0 623.2 663.3 625.8 667.1 630.0 669.0 M630.0 669.0 633.8 668.7 636.5 672.3 639.8 674.0 643.6 673.8 647.2 674.2 650.4 675.2 653.1 677.4 656.8 677.4 660.0 678.5 662.1 681.7 M662.1 681.7 657.8 681.1 654.7 684.1 653.5 687.1 653.3 690.3 651.1 693.1 652.2 696.5 649.4 698.4 645.7 698.5 642.9 700.3 641.2 704.1 638.3 705.6 634.9 706.4 631.8 706.7 628.8 706.5 626.0 704.6 622.8 705.4 620.0 704.0 616.7 704.1 613.3 705.1 610.1 701.8 606.7 703.8 603.4 703.0 600.6 704.2 597.6 704.8 594.3 704.7 592.2 707.5 588.7 706.7 586.4 709.3 583.6 710.4 583.6 713.7 583.8 717.0 585.9 720.2 584.4 723.5 585.5 726.8 586.4 730.1 583.3 733.5 586.0 736.7 584.8 740.0 586.7 743.0 587.7 746.7 590.2 749.4 592.2 752.4 594.1 755.2 594.6 758.6 595.7 761.8 597.2 764.8 595.5 767.7 597.5 771.3 595.1 774.1 594.7 777.2 597.4 779.8 599.2 782.9 599.3 787.0 602.1 789.5 602.1 793.2 601.9 797.0 601.1 800.7 602.1 804.4 602.3 808.4 605.6 810.9 607.1 814.3 606.2 817.7 606.1 821.3 605.6 824.7 604.3 828.1 604.6 831.7 601.9 833.1 598.9 833.9 596.2 835.3 592.7 834.8 590.3 836.9 587.2 837.4 585.0 840.0 581.3 839.9 579.7 843.9 576.3 844.3 572.7 844.4 570.0 846.3 568.4 850.3 565.6 851.8 562.0 852.0 561.6 855.1 562.3 858.4 561.0 861.2 561.0 864.4 558.0 866.9 558.0 870.0 557.1 873.1 556.9 876.1 560.0 878.9 558.0 882.1 558.5 885.0 560.8 887.9 558.0 891.1 557.9 894.1 560.0 897.0 562.5 899.2 561.4 903.4 564.9 905.1 566.0 908.0 568.9 911.4 571.7 914.8 M662.1 681.7 663.5 685.0 666.3 686.3 670.3 685.8 672.2 688.4 674.5 690.4 677.3 691.6 680.2 692.8 682.4 694.9 683.9 698.0 686.9 699.0 690.6 698.3 692.9 701.4 696.0 702.1 699.6 701.6 702.2 703.9 704.9 706.1 708.0 706.7 711.7 706.2 714.1 708.9 716.5 711.9 719.9 712.5 722.7 714.4 726.5 713.9 728.6 716.6 728.4 719.7 729.8 722.5 727.4 725.9 729.0 728.7 729.7 732.5 730.1 736.3 728.4 740.0 727.5 743.2 724.4 745.6 723.5 748.8 723.5 752.4 723.4 755.7 722.8 758.8 718.9 760.7 719.2 764.1 718.5 767.2 721.1 769.4 725.2 768.7 728.2 770.1 730.1 773.9 733.4 774.7 734.2 777.6 736.1 780.3 733.2 783.9 734.9 786.6 735.9 789.5 733.8 792.1 735.5 796.0 731.5 798.0 733.5 802.0 730.9 804.4 730.1 807.8 732.3 810.6 733.4 813.6 733.4 816.8 731.4 819.8 728.2 822.1 728.6 826.6 726.0 829.2 729.0 830.8 729.6 834.2 732.4 836.0 733.4 839.1 736.6 840.1 738.6 842.4 741.1 844.2 742.8 846.8 744.6 849.2 746.7 851.3 748.3 854.0 751.5 855.0 754.7 853.2 757.9 854.0 761.0 852.7 764.2 853.4 767.4 852.1 770.6 854.0 774.2 855.0 777.8 856.0 779.4 860.4 783.0 861.4 786.0 862.8 789.6 862.7 792.3 865.0 794.7 868.0 799.0 866.1 801.1 870.0 804.7 869.8 807.7 871.3 810.8 873.1 813.2 876.1 817.2 876.5 820.1 878.7 820.9 882.0 821.0 885.5 822.6 888.6 820.2 891.3 822.2 894.7 819.8 897.3 819.8 900.4 820.1 903.5 818.5 907.2 818.4 911.3 817.0 915.0 M630.0 669.0 633.0 667.7 636.0 665.9 639.2 665.5 642.3 664.6 646.1 666.6 648.8 664.0 652.2 664.3 652.7 660.4 654.0 657.0 657.2 654.4 661.0 653.7 664.1 652.0 666.8 649.4 669.5 647.0 673.2 646.1 677.0 646.0 680.7 646.2 684.4 647.0 686.8 645.0 688.5 642.2 691.7 641.2 694.3 639.5 696.1 636.4 700.6 635.9 703.1 633.5 704.4 629.8 706.7 627.2 710.2 626.2 713.6 629.1 717.1 626.4 720.5 626.6 724.0 627.2 728.1 627.5 730.2 630.8 733.0 633.1 735.9 635.1 738.9 637.1 742.6 637.9 745.1 640.8 749.2 640.9 751.3 644.5 754.4 644.4 757.5 644.6 760.1 646.6 763.3 646.1 766.2 646.8 768.6 649.5 771.8 649.7 774.9 650.4 777.4 652.8 780.5 653.5 783.5 654.4 786.6 656.2 789.9 656.7 793.2 657.7 796.3 659.2 800.1 658.1 803.3 659.4 805.3 656.8 809.5 656.8 809.9 652.1 813.8 651.8 816.1 649.5 818.2 647.0 820.9 644.7 824.3 647.3 827.3 647.0 830.1 645.5 833.0 644.5 836.4 643.9 839.5 642.7 841.3 638.8 845.0 638.7 847.9 637.1 849.9 634.6 852.9 633.0 854.8 630.4 856.8 628.0 857.8 624.7 860.0 622.4 863.0 620.7 864.3 617.7 866.3 615.3 867.7 612.3 870.3 610.1 873.0 608.3 876.1 607.5 879.4 607.2 882.1 605.1 886.1 606.7 888.6 604.3 891.3 606.6 894.0 608.9 897.1 610.6 899.7 612.5 902.4 614.1 905.5 614.9 908.7 615.4 912.2 614.0 914.8 617.6 918.2 617.0 921.5 617.5 924.5 616.0 927.7 615.6 930.8 614.9 929.1 618.9 928.7 623.3 928.5 627.1 924.5 628.8 924.5 632.7 923.5 636.0 920.3 638.1 920.1 641.5 918.2 644.4 921.8 643.6 924.0 640.2 928.1 640.5 930.8 638.1 934.6 639.1 937.6 636.4 940.8 635.1 944.3 634.7 947.7 633.9 M817.0 915.0 819.0 918.1 820.4 921.5 820.2 925.6 823.5 928.1 822.5 931.4 822.8 934.5 826.6 937.2 826.9 940.3 824.6 943.8 824.3 947.0 826.3 949.9 826.6 953.0 829.8 953.0 832.6 950.2 835.9 951.4 839.3 953.1 842.4 952.4 845.5 952.1 848.7 952.2 851.6 949.9 854.7 950.6 857.6 951.7 860.1 953.4 861.9 956.2 864.1 958.4 867.1 959.3 870.4 960.7 873.4 959.5 876.5 958.9 879.7 959.1 882.7 957.5 885.8 957.6 888.8 955.2 892.2 957.9 895.1 955.4 898.3 956.1 901.8 955.6 903.6 952.8 905.3 949.9 907.4 947.5 910.8 946.8 912.1 943.6 915.4 941.9 917.7 939.5 917.9 935.4 919.9 932.7 923.3 931.2 926.4 931.7 929.5 932.4 932.7 932.1 935.9 931.9 938.8 933.8 942.3 931.9 945.1 934.3 947.9 932.2 951.3 931.5 955.2 932.0 957.8 929.5 961.3 929.1 963.8 926.2 967.0 925.0 970.5 923.4 974.2 923.0 978.0 923.5 M817.0 915.0 814.3 912.7 811.1 913.2 807.8 914.2 804.6 914.8 801.9 912.4 799.0 911.2 795.8 911.7 792.8 910.9 789.7 911.4 787.0 909.2 784.2 907.7 780.8 910.0 778.0 908.4 775.8 911.2 772.6 911.1 769.6 911.9 766.4 912.0 764.3 914.9 760.6 913.7 758.2 915.9 754.8 915.9 752.0 917.7 749.2 919.8 745.3 917.8 742.9 921.2 739.2 920.2 736.8 923.4 733.4 923.3 731.7 926.6 727.7 927.5 726.6 931.3 723.5 933.2 720.6 935.6 721.0 939.4 720.9 943.0 718.5 945.6 720.1 948.9 719.8 952.5 719.3 956.1 718.7 959.7 721.0 962.9 721.0 962.9 722.7 965.8 721.9 968.9 722.9 971.9 720.1 975.2 723.7 977.9 724.3 980.9 722.8 984.1 725.3 987.0 724.8 990.6 723.7 994.4 724.6 997.7 726.0 1000.9 727.7 1004.0 726.2 1007.3 727.0 1010.2 729.9 1012.8 730.9 1015.6 730.2 1018.8 727.0 1021.1 726.8 1025.0 M571.7 914.8 574.9 916.7 579.1 915.0 581.9 918.4 585.7 918.3 589.0 919.7 590.7 922.6 592.1 925.6 594.0 928.5 594.0 932.1 597.1 934.2 597.3 937.5 598.2 940.5 597.3 944.3 601.6 945.9 601.4 949.4 604.6 951.7 608.5 949.2 611.9 950.3 615.1 952.7 618.7 951.9 621.3 954.1 624.7 953.6 628.2 953.2 630.7 955.8 633.6 956.9 636.4 959.0 637.4 963.0 641.9 963.5 643.9 966.4 646.0 969.3 643.9 972.0 646.9 975.5 644.9 978.2 642.8 980.9 643.5 984.1 643.7 987.6 647.7 989.6 648.9 992.7 648.4 996.5 651.9 997.0 652.4 1001.6 656.5 1001.3 658.4 1004.0 661.0 1005.9 663.8 1007.5 667.5 1006.3 670.5 1007.1 673.2 1008.9 675.6 1011.8 679.2 1011.8 682.9 1011.8 685.6 1013.9 688.1 1016.3 691.7 1016.6 694.7 1018.1 698.1 1018.8 699.5 1023.0 702.9 1023.8 705.6 1025.9 708.8 1025.3 711.6 1027.0 715.1 1023.8 717.8 1026.2 720.7 1024.7 723.8 1025.3 726.8 1025.0 M489.9 959.4 493.9 958.9 496.9 956.9 498.6 953.0 501.3 950.6 504.8 949.4 507.6 947.7 510.7 946.4 514.4 946.5 516.1 942.3 519.6 942.0 522.6 940.7 524.6 938.4 527.0 936.4 529.1 934.1 530.8 931.5 532.2 928.5 534.3 926.4 537.0 924.7 540.1 924.7 542.7 926.8 546.2 924.5 549.0 925.5 551.8 927.2 555.4 926.2 557.5 922.6 560.2 920.1 564.2 919.7 566.9 915.7 571.7 914.8 M489.9 959.4 491.6 962.6 494.2 965.2 493.8 969.6 497.3 971.7 498.7 975.3 500.9 978.0 505.4 978.5 508.4 980.4 509.7 984.1 513.4 983.9 515.9 986.6 518.7 988.6 522.1 989.1 519.8 992.9 517.2 996.5 516.5 1000.3 514.2 1003.2 512.2 1006.4 513.4 1009.9 514.9 1013.3 517.2 1016.3 513.8 1016.9 510.6 1018.1 508.0 1020.2 506.0 1023.7 502.3 1023.8 498.7 1026.7 497.3 1031.2 497.6 1034.3 496.1 1037.1 496.4 1040.2 494.4 1043.0 494.9 1046.1 495.2 1049.3 494.2 1052.1 493.4 1055.0 492.9 1058.0 489.3 1060.1 489.9 1063.4 491.3 1066.8 493.9 1069.7 494.9 1073.3 496.9 1076.4 496.4 1080.8 499.8 1083.2 501.6 1085.7 504.4 1087.5 504.4 1091.4 507.2 1093.1 M726.8 1025.0 728.6 1022.1 731.1 1019.4 729.0 1014.9 731.7 1012.3 733.0 1009.2 736.3 1009.9 739.5 1009.5 742.6 1009.2 745.2 1005.3 748.4 1005.7 751.7 1006.0 755.1 1008.3 756.9 1011.6 758.0 1015.4 758.6 1019.2 761.9 1020.8 762.9 1024.3 766.7 1025.5 767.3 1029.3 770.5 1031.0 768.1 1033.0 766.1 1035.5 762.3 1035.8 759.4 1037.1 758.0 1040.4 755.1 1042.5 751.7 1041.1 748.6 1041.5 745.7 1043.6 742.5 1043.5 739.3 1043.5 739.4 1047.2 737.9 1050.2 736.4 1053.2 733.9 1055.8 733.0 1059.1 731.8 1062.1 732.9 1065.6 733.1 1068.8 731.2 1071.7 729.9 1074.7 726.8 1075.9 725.3 1079.3 722.3 1080.7 719.9 1082.8 715.9 1082.6 713.8 1085.3 711.2 1087.2 708.1 1088.9 705.0 1088.8 701.8 1087.6 698.7 1087.0 695.6 1087.2 694.3 1090.2 695.6 1093.8 694.6 1096.8 692.5 1099.6 693.3 1104.1 695.5 1108.0 M507.2 1093.1 510.5 1094.7 513.8 1096.1 516.9 1098.1 519.6 1100.6 521.6 1103.8 525.8 1103.2 528.2 1105.8 531.5 1106.7 534.3 1108.6 537.0 1110.5 539.4 1113.6 542.2 1115.9 546.6 1115.6 549.4 1117.9 552.6 1118.9 553.7 1122.6 557.5 1122.9 560.5 1124.3 561.7 1127.8 560.8 1131.2 563.2 1133.9 562.3 1137.4 564.2 1140.2 567.7 1141.5 570.1 1144.8 574.1 1145.1 577.3 1143.3 580.1 1140.6 584.0 1140.2 579.9 1137.6 579.1 1132.8 580.9 1129.6 582.9 1126.4 584.0 1122.8 587.7 1123.1 589.6 1118.8 593.5 1119.6 596.4 1117.9 599.8 1119.3 602.6 1121.6 606.4 1122.2 608.8 1125.3 611.5 1127.2 612.7 1130.3 613.4 1133.8 617.9 1134.2 618.7 1137.7 622.4 1135.2 626.1 1132.8 627.3 1129.5 628.0 1126.2 624.9 1122.9 624.6 1119.6 627.9 1116.3 626.1 1113.0 629.5 1111.6 629.8 1108.0 630.3 1104.4 633.6 1103.0 637.3 1103.9 640.1 1101.0 643.5 1100.6 644.8 1104.2 648.1 1105.9 650.0 1109.0 654.4 1109.6 655.9 1113.0 658.6 1115.3 662.5 1114.4 665.3 1116.3 668.3 1117.9 672.2 1117.5 675.5 1115.8 678.2 1113.0 680.7 1110.9 683.7 1110.3 686.7 1110.1 689.8 1109.7 692.5 1108.4 695.5 1108.0 M695.5 1108.0 697.9 1110.5 698.4 1114.2 701.4 1116.3 704.2 1118.5 705.0 1122.0 706.6 1125.3 711.0 1126.1 712.0 1130.0 M203.9 813.0 206.9 811.0 210.8 811.9 214.3 811.6 217.4 809.9 220.2 807.3 223.7 806.9 227.5 806.2 229.2 802.4 232.0 800.1 236.4 800.3 238.5 797.0 241.3 795.4 243.9 793.6 246.4 791.6 249.6 790.6 250.9 787.1 251.6 784.2 253.9 781.7 253.4 778.4 256.6 779.6 259.8 780.6 263.3 779.6 266.0 781.9 267.6 785.2 270.5 787.2 273.8 789.0 275.7 792.0 279.5 792.6 282.1 795.8 285.6 797.0 289.5 799.8 290.6 804.4 287.2 807.3 286.8 811.8 287.8 815.3 287.9 818.6 285.6 821.7 288.7 823.3 287.9 827.7 291.6 828.8 293.0 831.7 291.5 835.2 289.4 838.0 286.9 840.4 283.1 841.6 285.0 845.7 288.1 849.0 291.2 848.5 294.3 847.7 297.3 846.9 299.4 843.4 302.9 844.0 305.8 843.1 308.3 841.0 311.8 841.4 314.6 840.2 317.5 839.2 318.9 835.0 323.0 836.7 325.2 834.1 329.0 834.4 332.3 833.3 334.3 828.9 337.7 828.1 340.8 826.5 344.6 826.7 341.8 824.3 343.9 820.3 342.8 817.4 341.1 814.6 339.6 811.8 341.4 809.1 341.1 806.0 340.3 802.8 340.0 799.7 342.1 797.0 338.6 796.2 337.8 792.1 333.9 791.7 331.7 789.3 329.5 786.9 327.2 784.6 324.8 779.6 327.7 776.8 331.5 776.7 334.9 775.8 338.9 776.5 342.1 774.7 344.8 773.0 347.6 771.5 351.5 772.7 353.7 769.7 357.2 769.7 359.5 767.2 364.4 769.7 364.3 773.1 367.1 776.1 366.0 779.6 366.3 782.9 365.4 786.3 366.9 789.5 370.6 788.9 374.3 790.3 378.0 789.7 381.7 789.5 383.5 786.8 387.5 787.2 388.2 782.9 392.4 783.5 393.4 779.6 395.5 777.3 399.1 777.2 402.4 774.8 406.5 774.7 406.3 778.3 406.3 781.8 409.0 784.6 407.9 788.5 404.1 789.6 401.6 792.1 398.2 793.7 396.6 797.0 397.3 800.2 395.6 802.9 395.7 806.0 393.3 808.6 394.1 811.8 396.2 814.5 395.0 818.7 398.7 820.8 399.1 824.2 400.2 828.0 399.1 831.7 402.0 834.0 405.7 835.0 409.0 836.6 411.7 839.1 410.9 843.0 414.2 845.3 413.9 849.0 412.7 852.3 413.1 855.6 413.9 858.9 416.7 861.6 420.3 862.7 423.9 863.9 426.1 866.9 427.5 870.3 428.8 873.8 432.1 874.6 434.4 877.7 438.7 875.9 441.2 878.7 438.1 881.3 439.6 886.2 436.2 888.6 437.4 891.9 437.1 895.2 434.6 898.5 436.2 901.8 436.7 905.1 436.2 908.4 433.2 911.1 433.9 915.5 431.3 918.4 M431.3 918.4 434.5 916.6 438.0 915.2 441.2 913.4 444.3 915.2 447.6 916.0 451.1 915.9 454.1 918.1 458.0 918.6 461.0 920.8 462.2 923.7 463.4 926.5 461.1 930.0 462.4 932.8 463.5 935.7 461.6 938.4 462.8 942.0 460.7 944.7 458.5 947.2 458.5 950.5 456.6 953.7 456.6 957.8 453.6 960.5 456.8 961.6 459.2 964.4 463.3 963.2 466.0 965.4 467.6 962.1 470.4 959.9 473.4 958.0 476.9 958.0 480.3 957.7 483.3 955.5 487.3 956.3 489.9 959.4 M431.3 918.4 429.0 920.5 426.4 922.3 427.0 926.6 423.7 927.9 421.5 930.1 421.0 933.5 418.9 935.7 416.5 938.2 412.6 939.3 412.8 944.4 409.0 945.6 407.2 943.0 404.0 941.5 403.9 937.5 402.5 934.6 399.1 933.2 396.1 934.1 393.6 936.7 390.1 935.9 387.1 937.0 384.2 938.2 382.8 941.0 383.2 944.1 382.2 947.0 380.9 949.8 381.7 953.0 378.6 954.2 375.7 955.8 371.8 955.1 369.4 958.0 366.6 960.7 362.5 960.6 359.5 962.9 358.0 966.2 354.9 968.6 355.2 973.0 352.0 975.3 351.5 979.1 355.0 981.3 357.4 983.9 357.0 987.7 356.6 991.1 354.9 994.1 355.1 997.7 352.0 1000.1 350.0 1003.8 347.5 1007.1 347.2 1010.9 345.5 1014.4 346.3 1018.3 345.1 1021.9 343.1 1024.3 340.7 1026.2 337.6 1026.9 334.9 1028.8 332.3 1030.8 331.6 1034.3 330.6 1037.5 327.7 1039.3 324.1 1038.9 321.2 1041.3 317.8 1041.7 317.6 1045.1 316.7 1048.1 313.1 1050.0 311.7 1052.8 311.1 1056.0 310.4 1059.1 308.8 1062.5 306.8 1065.6 305.4 1069.0 M132.0 1122.0 135.0 1120.4 138.7 1122.8 141.5 1119.9 144.8 1120.5 148.1 1120.8 151.3 1120.2 154.3 1118.5 156.1 1120.9 158.3 1123.0 159.3 1126.0 163.1 1123.7 166.7 1121.0 164.6 1118.2 166.8 1114.5 164.3 1111.8 164.2 1108.6 168.1 1108.2 170.4 1104.5 174.1 1103.7 176.2 1100.8 179.1 1098.7 180.7 1094.5 184.0 1091.3 187.0 1089.8 189.7 1087.6 192.6 1085.7 196.4 1086.3 199.9 1085.1 201.9 1081.6 204.8 1079.5 207.9 1077.7 211.3 1076.4 215.0 1077.6 218.7 1078.9 221.0 1076.2 224.0 1074.3 226.6 1071.9 228.6 1069.0 230.7 1066.7 234.6 1066.7 236.9 1064.6 238.5 1061.6 240.9 1058.7 245.2 1060.3 248.4 1059.4 250.9 1056.6 254.2 1054.9 254.9 1050.6 258.4 1049.2 261.7 1048.4 263.7 1045.9 264.7 1042.0 268.3 1041.7 267.2 1037.9 271.7 1035.5 270.7 1031.8 274.4 1032.4 278.2 1031.8 280.9 1034.4 283.3 1037.2 285.0 1040.4 285.6 1044.2 288.3 1046.0 288.4 1049.8 291.6 1051.3 293.0 1054.1 295.9 1056.8 294.9 1061.4 298.0 1064.0 301.0 1067.5 305.4 1069.0 M305.4 1069.0 306.7 1072.7 303.8 1076.5 305.0 1080.2 305.4 1083.9 302.8 1086.7 301.5 1090.2 300.5 1093.8 297.4 1096.4 296.1 1099.9 295.5 1103.7 293.4 1106.7 295.0 1110.6 293.0 1113.6 294.3 1116.5 296.7 1118.6 297.9 1121.6 300.5 1123.5 301.5 1126.7 300.6 1130.5 302.9 1133.4 300.9 1135.7 300.0 1138.9 298.2 1141.5 295.5 1143.3 294.0 1146.8 290.6 1148.3 289.3 1152.0 285.6 1153.2 282.0 1155.8 278.2 1158.2 281.8 1161.1 283.1 1165.6 279.8 1167.3 276.5 1168.9 273.2 1170.6 274.7 1174.0 275.2 1177.9 278.2 1180.5 281.9 1178.5 285.6 1181.9 289.3 1180.4 293.0 1180.5 296.1 1179.7 299.2 1179.1 302.4 1178.8 304.8 1176.0 307.9 1175.5 311.3 1176.0 314.0 1179.0 317.8 1178.0 321.0 1179.5 321.1 1183.3 322.9 1185.8 325.2 1187.9 328.0 1190.3 326.8 1194.0 327.5 1197.1 327.6 1200.4 330.2 1202.8 332.1 1205.6 330.9 1209.7 333.8 1212.0 335.1 1215.1 334.7 1218.7 332.7 1222.0 335.7 1226.0 333.4 1229.3 332.5 1232.4 332.9 1235.5 334.0 1238.6 333.4 1241.7 334.9 1245.2 338.4 1246.6 M338.4 1246.6 340.1 1250.1 340.8 1254.0 341.4 1257.0 341.7 1260.0 341.2 1263.1 343.9 1265.7 343.3 1268.9 343.1 1272.4 342.6 1275.9 341.6 1279.2 340.0 1282.6 340.8 1286.2 341.0 1289.5 338.3 1292.2 339.4 1295.6 338.4 1298.6 337.3 1301.4 337.1 1304.6 335.2 1307.1 332.3 1309.2 332.5 1312.5 330.9 1315.2 330.9 1318.4 330.1 1321.5 328.7 1324.4 327.4 1327.3 324.9 1329.6 323.3 1332.4 321.4 1335.0 321.0 1338.3 M338.4 1246.6 341.1 1244.3 344.5 1246.5 347.5 1246.6 350.3 1244.8 353.2 1244.1 354.4 1240.4 358.2 1239.2 362.2 1239.7 365.6 1241.7 367.6 1244.8 366.8 1247.8 363.9 1250.9 365.6 1254.0 368.5 1255.7 371.6 1257.1 374.5 1258.8 378.0 1259.0 379.3 1262.6 382.9 1264.0 381.3 1266.9 380.0 1270.0 378.8 1273.0 378.0 1276.3 381.6 1275.4 384.8 1273.4 387.9 1271.4 390.4 1268.7 390.6 1264.6 394.0 1262.4 395.3 1259.0 398.3 1257.6 401.9 1257.5 404.0 1253.8 407.7 1254.0 405.7 1251.6 M507.2 1093.1 506.0 1096.3 504.2 1099.0 500.7 1100.0 497.9 1101.9 495.5 1104.2 494.4 1107.4 493.0 1110.3 490.1 1111.7 486.6 1110.8 483.7 1111.7 480.9 1113.5 478.3 1115.5 475.0 1115.4 474.4 1118.7 472.7 1121.5 471.8 1124.7 470.1 1127.5 468.1 1130.2 467.3 1133.4 463.4 1133.4 461.9 1138.1 457.9 1137.8 455.8 1141.2 451.9 1141.1 451.6 1145.2 447.4 1147.4 446.8 1151.4 446.5 1154.6 445.1 1157.8 447.0 1161.0 446.8 1164.2 443.2 1165.5 440.3 1163.3 437.2 1161.9 433.9 1161.6 431.4 1158.9 428.3 1157.7 424.6 1158.6 421.5 1157.9 418.5 1156.5 416.9 1159.7 413.1 1159.9 411.5 1163.2 408.3 1164.2 405.4 1166.2 402.2 1167.4 399.0 1168.1 395.4 1166.8 394.7 1170.2 396.9 1173.7 395.4 1177.1 394.3 1180.5 398.5 1182.6 396.2 1186.2 399.8 1188.5 400.9 1191.3 398.9 1194.9 400.5 1197.6 402.2 1200.3 401.1 1203.7 403.9 1206.1 405.2 1208.9 403.2 1212.6 404.1 1215.5 405.7 1218.2 404.3 1221.8 404.8 1225.4 407.4 1228.9 405.2 1232.5 405.7 1236.1 404.9 1239.2 405.9 1242.3 404.0 1245.4 406.7 1248.5 405.7 1251.6 M405.7 1251.6 409.6 1250.3 410.8 1246.4 414.3 1245.6 416.1 1241.6 419.2 1240.0 423.4 1240.8 426.2 1238.7 429.7 1237.0 430.2 1232.4 433.4 1230.4 436.5 1228.4 434.6 1225.2 430.4 1224.2 428.8 1220.7 432.5 1220.8 435.2 1218.1 437.7 1215.2 441.6 1215.6 444.5 1214.6 447.6 1215.0 450.6 1214.1 453.7 1214.6 456.4 1212.0 459.6 1213.0 459.1 1216.5 461.4 1219.3 461.0 1222.8 462.2 1225.9 465.5 1225.8 468.5 1224.3 471.7 1223.5 475.0 1223.3 475.5 1226.9 476.5 1230.3 478.6 1233.0 480.9 1235.7 482.7 1238.7 482.7 1242.3 482.7 1246.0 480.2 1249.0 484.7 1249.5 487.9 1246.4 487.8 1249.8 487.9 1253.1 490.5 1255.9 490.5 1259.3 493.9 1258.4 497.6 1258.5 500.6 1256.6 503.3 1254.1 504.9 1256.9 507.8 1258.8 509.3 1261.7 511.0 1264.4 509.4 1267.8 511.5 1271.2 510.3 1274.7 510.6 1278.1 509.4 1281.5 511.0 1284.9 510.2 1288.1 512.7 1290.8 514.3 1293.6 513.7 1296.8 513.5 1299.9 513.6 1302.9 515.0 1305.7 515.9 1308.7 517.4 1311.5 521.9 1312.2 521.0 1316.5 523.8 1318.3 522.6 1322.2 523.8 1326.0 525.3 1329.6 528.7 1331.4 532.2 1333.1 534.1 1336.3 535.7 1339.9 538.4 1342.3 541.3 1344.5 544.4 1346.6 542.7 1349.6 545.0 1352.6 546.1 1355.6 544.2 1358.6 543.2 1361.6 544.4 1364.6 546.0 1367.9 544.3 1371.6 544.0 1375.1 547.2 1378.1 546.1 1381.7 547.0 1385.1 543.6 1385.1 540.6 1386.5 537.6 1388.2 534.1 1387.7 531.0 1386.8 529.5 1383.5 526.4 1382.6 525.8 1385.9 527.6 1388.7 529.6 1391.6 527.3 1395.1 529.0 1398.0 527.1 1401.1 528.3 1405.1 526.4 1408.2 523.7 1409.6 520.5 1410.3 518.0 1412.0 516.3 1415.0 513.5 1416.8 510.9 1418.8 507.9 1420.3 506.0 1423.4 503.2 1425.3 499.8 1426.1 500.1 1430.1 497.2 1433.2 497.0 1437.1 499.1 1439.6 500.1 1442.7 502.3 1445.1 503.6 1448.1 505.3 1450.8 507.1 1453.8 508.0 1457.0 504.7 1460.7 507.6 1463.6 509.1 1466.7 508.0 1470.1 508.2 1473.7 508.3 1477.2 511.4 1480.2 510.8 1483.9 510.4 1487.1 511.4 1490.3 510.7 1493.5 512.7 1496.7 512.7 1499.9 510.8 1503.1 507.8 1505.8 507.2 1509.2 507.6 1513.0 506.1 1516.2 505.3 1519.6 507.5 1522.0 507.0 1525.6 509.7 1527.8 510.8 1530.7 507.7 1534.2 508.0 1538.9 504.2 1539.3 500.6 1540.5 497.0 1541.3 494.2 1544.4 491.2 1546.4 488.2 1548.4 484.7 1548.8 481.4 1550.0 477.7 1549.9 475.2 1552.8 472.0 1554.3 468.0 1553.8 464.3 1554.1 461.8 1557.0 458.5 1558.2 M128.8 1253.4 132.1 1253.8 135.4 1253.2 138.8 1254.1 141.5 1250.0 145.0 1251.4 147.9 1249.2 151.7 1250.7 155.1 1250.6 158.1 1248.8 161.1 1247.3 164.0 1245.3 167.7 1245.2 171.1 1244.7 173.4 1241.0 177.2 1241.3 180.1 1240.1 183.1 1239.3 186.0 1238.3 189.3 1239.3 192.4 1239.7 195.6 1239.0 198.6 1239.8 201.5 1241.3 205.3 1242.1 207.2 1245.9 211.7 1245.7 213.6 1249.3 215.7 1252.0 219.7 1252.4 221.6 1255.4 222.0 1259.5 217.3 1261.5 217.6 1265.5 220.5 1267.3 220.3 1271.6 222.5 1274.0 225.7 1275.6 225.2 1279.1 229.1 1281.2 228.9 1284.6 229.7 1287.7 229.9 1291.7 225.4 1293.8 225.7 1297.8 223.8 1301.0 224.1 1304.5 224.0 1308.0 M818.2 758.4 821.7 756.5 824.8 754.2 827.3 751.2 829.8 748.2 833.0 746.0 836.5 746.4 840.0 746.9 843.4 748.1 847.0 747.4 850.4 748.5 855.3 750.0 860.0 752.0 861.3 755.5 863.2 758.7 864.8 762.0 865.1 765.9 866.4 769.4 868.7 772.4 870.2 775.8 873.4 777.5 876.9 778.7 879.8 780.9 882.6 783.2 881.4 786.7 878.5 789.0 876.5 792.0 875.6 795.8 872.7 798.1 869.5 795.2 865.0 794.8 862.0 791.6 857.8 790.6 854.0 789.2 850.0 788.4 845.8 790.0 841.9 788.9 838.0 788.2 833.6 787.1 829.3 789.6 825.0 789.5 820.6 788.2 819.1 784.8 817.3 781.6 815.7 778.3 817.4 774.5 817.5 770.4 817.3 766.4 819.1 762.6Z M341.4 649.4 345.9 651.4 350.4 653.3 353.6 655.3 356.8 657.2 361.8 658.3 367.0 658.4 371.4 659.8 375.7 661.5 379.9 663.6 383.8 663.4 387.6 662.3 391.5 662.3 393.0 667.4 396.6 671.3 394.8 675.4 393.9 679.8 392.7 684.1 388.4 685.2 384.2 684.5 379.9 684.1 378.3 679.7 377.3 675.1 374.9 672.0 372.3 669.0 369.6 666.1 366.7 663.4 363.4 661.5 359.4 661.0 354.9 658.5 350.4 655.9 347.1 654.1 343.9 652.0Z M352.9 585.2 363.2 582.7 359.4 590.4 360.6 596.8 352.9 607.1 350.5 598.0 351.5 590.0Z"/>
</svg>
<div class="lb" style="left:425.6px;top:368.8px;width:214.4px;height:75.3px"><div class="nm" style="left:107.2px;transform:translateX(-50%) scaleX(1.153)">Schleswig-Holstein</div><div class="pc" style="left:107.2px">6,50%</div></div><div class="lb" style="left:458.5px;top:499.8px;width:127.1px;height:75.3px"><div class="nm" style="left:63.6px;transform:translateX(-50%) scaleX(1.170)">Hamburg</div><div class="pc" style="left:63.6px">5,50%</div></div><div class="lb" style="left:641.0px;top:527.4px;width:288.8px;height:75.3px"><div class="nm" style="left:144.4px;transform:translateX(-50%) scaleX(1.169)">Mecklenburg-Vorpommern</div><div class="pc" style="left:144.4px">6,00%</div></div><div class="lb" style="left:249.7px;top:667.2px;width:125.8px;height:75.3px"><div class="nm" style="left:62.9px;transform:translateX(-50%) scaleX(1.139)">Bremen</div><div class="pc" style="left:62.9px">5,00%</div></div><div class="lb" style="left:417.7px;top:696.7px;width:167.1px;height:75.3px"><div class="nm" style="left:83.5px;transform:translateX(-50%) scaleX(1.180)">Niedersachsen</div><div class="pc" style="left:83.5px">5,00%</div></div><div class="lb" style="left:857.4px;top:696.7px;width:118.8px;height:75.3px"><div class="nm" style="left:59.4px;transform:translateX(-50%) scaleX(1.127)">Berlin</div><div class="pc" style="left:59.4px">6,00%</div></div><div class="lb" style="left:561.2px;top:832.9px;width:166.8px;height:75.3px"><div class="nm" style="left:83.4px;transform:translateX(-50%) scaleX(1.178)">Sachsen-Anhalt</div><div class="pc" style="left:83.4px">5,00%</div></div><div class="lb" style="left:854.1px;top:819.0px;width:151.1px;height:75.3px"><div class="nm" style="left:75.6px;transform:translateX(-50%) scaleX(1.159)">Brandenburg</div><div class="pc" style="left:75.6px">6,50%</div></div><div class="lb" style="left:96.1px;top:901.0px;width:233.6px;height:75.3px"><div class="nm" style="left:116.8px;transform:translateX(-50%) scaleX(1.171)">Nordrhein-Westfalen</div><div class="pc" style="left:116.8px">6,50%</div></div><div class="lb" style="left:541.9px;top:1006.4px;width:126.4px;height:75.3px"><div class="nm" style="left:63.2px;transform:translateX(-50%) scaleX(1.185)">Thüringen</div><div class="pc" style="left:63.2px">6,50%</div></div><div class="lb" style="left:804.1px;top:1006.0px;width:126.4px;height:75.3px"><div class="nm" style="left:63.2px;transform:translateX(-50%) scaleX(1.184)">Sachsen</div><div class="pc" style="left:63.2px">5,50%</div></div><div class="lb" style="left:330.2px;top:1054.0px;width:125.6px;height:75.3px"><div class="nm" style="left:62.8px;transform:translateX(-50%) scaleX(1.186)">Hessen</div><div class="pc" style="left:62.8px">6,00%</div></div><div class="lb" style="left:56.1px;top:1149.0px;width:189.8px;height:75.3px"><div class="nm" style="left:94.9px;transform:translateX(-50%) scaleX(1.161)">Rheinland-Pfalz</div><div class="pc" style="left:94.9px">5,00%</div></div><div class="lb" style="left:56.1px;top:1276.6px;width:126.2px;height:75.3px"><div class="nm" style="left:63.1px;transform:translateX(-50%) scaleX(1.181)">Saarland</div><div class="pc" style="left:63.1px">6,50%</div></div><div class="lb" style="left:668.6px;top:1305.6px;width:102.1px;height:75.3px"><div class="nm" style="left:51.1px;transform:translateX(-50%) scaleX(1.150)">Bayern</div><div class="pc" style="left:51.1px">3,50%</div></div><div class="lb" style="left:125.5px;top:1391.9px;width:227.3px;height:75.3px"><div class="nm" style="left:113.7px;transform:translateX(-50%) scaleX(1.166)">Baden-Württemberg</div><div class="pc" style="left:113.7px">5,00%</div></div>
<div class="bt" id="b1">Die Grunderwerbsteuer weist in Deutschland große Unterschiede auf. Von den</div>
<div class="bt" id="b2">16 Bundesländern hat nur Bayern keine Änderung vorgenommen.</div>
<div id="st">Stand: 26.06.2023</div>
</body></html>
